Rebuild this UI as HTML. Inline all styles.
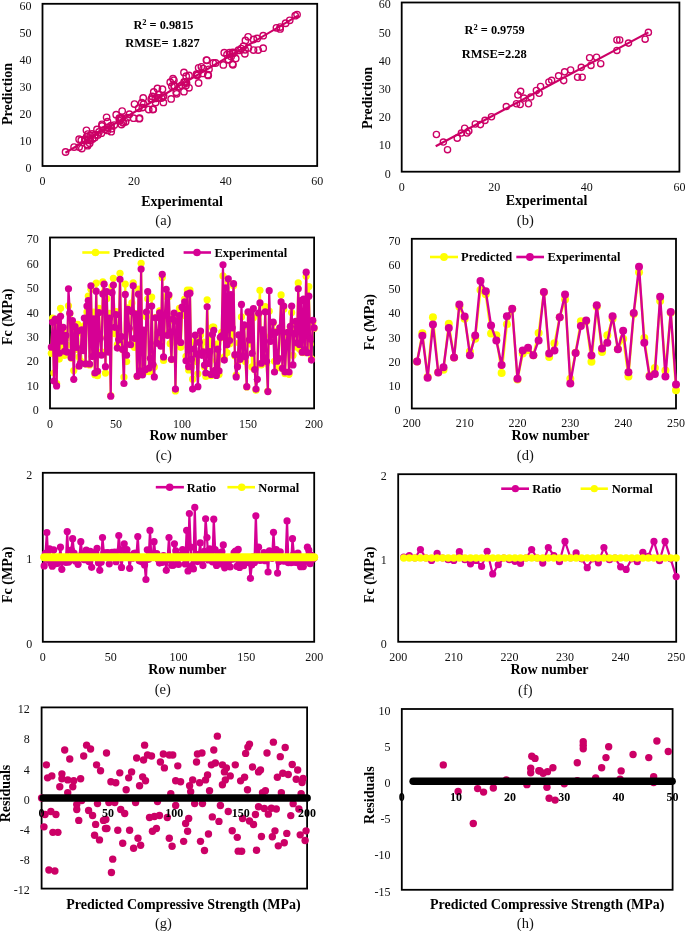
<!DOCTYPE html><html><head><meta charset="utf-8"><style>html,body{margin:0;padding:0;background:#fff;width:685px;height:931px;overflow:hidden}svg{display:block;will-change:transform}</style></head><body>
<svg width="685" height="931" viewBox="0 0 685 931" style="font-family:&quot;Liberation Serif&quot;,serif">
<rect width="685" height="931" fill="#fff"/>
<rect x="42.5" y="3.8" width="274.7" height="162.2" fill="none" stroke="#000" stroke-width="1.8"/>
<circle cx="65.57" cy="152" r="3.2" fill="none" stroke="#CC0066" stroke-width="1.4"/>
<circle cx="74.09" cy="147.08" r="3.2" fill="none" stroke="#CC0066" stroke-width="1.4"/>
<circle cx="79.13" cy="139.24" r="3.2" fill="none" stroke="#CC0066" stroke-width="1.4"/>
<circle cx="79.13" cy="147.08" r="3.2" fill="none" stroke="#CC0066" stroke-width="1.4"/>
<circle cx="86.45" cy="130.32" r="3.2" fill="none" stroke="#CC0066" stroke-width="1.4"/>
<circle cx="87.83" cy="134.1" r="3.2" fill="none" stroke="#CC0066" stroke-width="1.4"/>
<circle cx="88.74" cy="139.24" r="3.2" fill="none" stroke="#CC0066" stroke-width="1.4"/>
<circle cx="96.98" cy="129.5" r="3.2" fill="none" stroke="#CC0066" stroke-width="1.4"/>
<circle cx="97.9" cy="134.91" r="3.2" fill="none" stroke="#CC0066" stroke-width="1.4"/>
<circle cx="102.02" cy="124.37" r="3.2" fill="none" stroke="#CC0066" stroke-width="1.4"/>
<circle cx="106.6" cy="117.34" r="3.2" fill="none" stroke="#CC0066" stroke-width="1.4"/>
<circle cx="107.51" cy="121.67" r="3.2" fill="none" stroke="#CC0066" stroke-width="1.4"/>
<circle cx="111.63" cy="128.69" r="3.2" fill="none" stroke="#CC0066" stroke-width="1.4"/>
<circle cx="116.21" cy="114.64" r="3.2" fill="none" stroke="#CC0066" stroke-width="1.4"/>
<circle cx="122.16" cy="111.12" r="3.2" fill="none" stroke="#CC0066" stroke-width="1.4"/>
<circle cx="120.33" cy="118.96" r="3.2" fill="none" stroke="#CC0066" stroke-width="1.4"/>
<circle cx="134.52" cy="104.09" r="3.2" fill="none" stroke="#CC0066" stroke-width="1.4"/>
<circle cx="133.61" cy="118.15" r="3.2" fill="none" stroke="#CC0066" stroke-width="1.4"/>
<circle cx="139.56" cy="118.15" r="3.2" fill="none" stroke="#CC0066" stroke-width="1.4"/>
<circle cx="143.22" cy="97.88" r="3.2" fill="none" stroke="#CC0066" stroke-width="1.4"/>
<circle cx="142.31" cy="107.61" r="3.2" fill="none" stroke="#CC0066" stroke-width="1.4"/>
<circle cx="148.72" cy="109.5" r="3.2" fill="none" stroke="#CC0066" stroke-width="1.4"/>
<circle cx="152.84" cy="109.5" r="3.2" fill="none" stroke="#CC0066" stroke-width="1.4"/>
<circle cx="153.75" cy="91.93" r="3.2" fill="none" stroke="#CC0066" stroke-width="1.4"/>
<circle cx="157.42" cy="88.41" r="3.2" fill="none" stroke="#CC0066" stroke-width="1.4"/>
<circle cx="162.45" cy="89.23" r="3.2" fill="none" stroke="#CC0066" stroke-width="1.4"/>
<circle cx="158.33" cy="97.88" r="3.2" fill="none" stroke="#CC0066" stroke-width="1.4"/>
<circle cx="163.37" cy="102.47" r="3.2" fill="none" stroke="#CC0066" stroke-width="1.4"/>
<circle cx="170.24" cy="82.2" r="3.2" fill="none" stroke="#CC0066" stroke-width="1.4"/>
<circle cx="172.98" cy="78.68" r="3.2" fill="none" stroke="#CC0066" stroke-width="1.4"/>
<circle cx="171.15" cy="98.96" r="3.2" fill="none" stroke="#CC0066" stroke-width="1.4"/>
<circle cx="176.65" cy="93.82" r="3.2" fill="none" stroke="#CC0066" stroke-width="1.4"/>
<circle cx="183.97" cy="72.46" r="3.2" fill="none" stroke="#CC0066" stroke-width="1.4"/>
<circle cx="189.01" cy="75.44" r="3.2" fill="none" stroke="#CC0066" stroke-width="1.4"/>
<circle cx="198.62" cy="67.87" r="3.2" fill="none" stroke="#CC0066" stroke-width="1.4"/>
<circle cx="201.37" cy="66.79" r="3.2" fill="none" stroke="#CC0066" stroke-width="1.4"/>
<circle cx="206.86" cy="60.3" r="3.2" fill="none" stroke="#CC0066" stroke-width="1.4"/>
<circle cx="208.24" cy="75.44" r="3.2" fill="none" stroke="#CC0066" stroke-width="1.4"/>
<circle cx="198.62" cy="83.01" r="3.2" fill="none" stroke="#CC0066" stroke-width="1.4"/>
<circle cx="183.97" cy="91.66" r="3.2" fill="none" stroke="#CC0066" stroke-width="1.4"/>
<circle cx="189.01" cy="87.87" r="3.2" fill="none" stroke="#CC0066" stroke-width="1.4"/>
<circle cx="173.9" cy="80.3" r="3.2" fill="none" stroke="#CC0066" stroke-width="1.4"/>
<circle cx="215.56" cy="63" r="3.2" fill="none" stroke="#CC0066" stroke-width="1.4"/>
<circle cx="224.26" cy="52.73" r="3.2" fill="none" stroke="#CC0066" stroke-width="1.4"/>
<circle cx="227.01" cy="54.62" r="3.2" fill="none" stroke="#CC0066" stroke-width="1.4"/>
<circle cx="223.34" cy="64.9" r="3.2" fill="none" stroke="#CC0066" stroke-width="1.4"/>
<circle cx="232.5" cy="64.08" r="3.2" fill="none" stroke="#CC0066" stroke-width="1.4"/>
<circle cx="235.71" cy="58.41" r="3.2" fill="none" stroke="#CC0066" stroke-width="1.4"/>
<circle cx="238.45" cy="50.03" r="3.2" fill="none" stroke="#CC0066" stroke-width="1.4"/>
<circle cx="244.86" cy="53.81" r="3.2" fill="none" stroke="#CC0066" stroke-width="1.4"/>
<circle cx="253.56" cy="39.48" r="3.2" fill="none" stroke="#CC0066" stroke-width="1.4"/>
<circle cx="257.22" cy="38.4" r="3.2" fill="none" stroke="#CC0066" stroke-width="1.4"/>
<circle cx="263.18" cy="35.7" r="3.2" fill="none" stroke="#CC0066" stroke-width="1.4"/>
<circle cx="253.56" cy="50.03" r="3.2" fill="none" stroke="#CC0066" stroke-width="1.4"/>
<circle cx="258.14" cy="50.03" r="3.2" fill="none" stroke="#CC0066" stroke-width="1.4"/>
<circle cx="263.18" cy="48.13" r="3.2" fill="none" stroke="#CC0066" stroke-width="1.4"/>
<circle cx="276.45" cy="27.86" r="3.2" fill="none" stroke="#CC0066" stroke-width="1.4"/>
<circle cx="280.12" cy="27.05" r="3.2" fill="none" stroke="#CC0066" stroke-width="1.4"/>
<circle cx="285.61" cy="23.26" r="3.2" fill="none" stroke="#CC0066" stroke-width="1.4"/>
<circle cx="289.73" cy="20.29" r="3.2" fill="none" stroke="#CC0066" stroke-width="1.4"/>
<circle cx="295.22" cy="15.69" r="3.2" fill="none" stroke="#CC0066" stroke-width="1.4"/>
<circle cx="297.06" cy="14.61" r="3.2" fill="none" stroke="#CC0066" stroke-width="1.4"/>
<circle cx="280.12" cy="28.94" r="3.2" fill="none" stroke="#CC0066" stroke-width="1.4"/>
<circle cx="153.25" cy="109.17" r="3.2" fill="none" stroke="#CC0066" stroke-width="1.4"/>
<circle cx="155.56" cy="102.62" r="3.2" fill="none" stroke="#CC0066" stroke-width="1.4"/>
<circle cx="162.9" cy="97.12" r="3.2" fill="none" stroke="#CC0066" stroke-width="1.4"/>
<circle cx="163.61" cy="95.84" r="3.2" fill="none" stroke="#CC0066" stroke-width="1.4"/>
<circle cx="184.13" cy="81.89" r="3.2" fill="none" stroke="#CC0066" stroke-width="1.4"/>
<circle cx="127.33" cy="117.65" r="3.2" fill="none" stroke="#CC0066" stroke-width="1.4"/>
<circle cx="90.32" cy="135.48" r="3.2" fill="none" stroke="#CC0066" stroke-width="1.4"/>
<circle cx="81.83" cy="148.58" r="3.2" fill="none" stroke="#CC0066" stroke-width="1.4"/>
<circle cx="245.43" cy="40.42" r="3.2" fill="none" stroke="#CC0066" stroke-width="1.4"/>
<circle cx="181.64" cy="85.14" r="3.2" fill="none" stroke="#CC0066" stroke-width="1.4"/>
<circle cx="101.95" cy="125.95" r="3.2" fill="none" stroke="#CC0066" stroke-width="1.4"/>
<circle cx="84.91" cy="140.49" r="3.2" fill="none" stroke="#CC0066" stroke-width="1.4"/>
<circle cx="107.64" cy="127.49" r="3.2" fill="none" stroke="#CC0066" stroke-width="1.4"/>
<circle cx="155.26" cy="98.42" r="3.2" fill="none" stroke="#CC0066" stroke-width="1.4"/>
<circle cx="151.19" cy="99.13" r="3.2" fill="none" stroke="#CC0066" stroke-width="1.4"/>
<circle cx="185.94" cy="85.4" r="3.2" fill="none" stroke="#CC0066" stroke-width="1.4"/>
<circle cx="161.5" cy="98.08" r="3.2" fill="none" stroke="#CC0066" stroke-width="1.4"/>
<circle cx="122.94" cy="122.32" r="3.2" fill="none" stroke="#CC0066" stroke-width="1.4"/>
<circle cx="248.12" cy="36.83" r="3.2" fill="none" stroke="#CC0066" stroke-width="1.4"/>
<circle cx="197.69" cy="74.58" r="3.2" fill="none" stroke="#CC0066" stroke-width="1.4"/>
<circle cx="129.4" cy="114.26" r="3.2" fill="none" stroke="#CC0066" stroke-width="1.4"/>
<circle cx="86.77" cy="136.54" r="3.2" fill="none" stroke="#CC0066" stroke-width="1.4"/>
<circle cx="207.86" cy="74.72" r="3.2" fill="none" stroke="#CC0066" stroke-width="1.4"/>
<circle cx="141.79" cy="102.77" r="3.2" fill="none" stroke="#CC0066" stroke-width="1.4"/>
<circle cx="241.23" cy="48.58" r="3.2" fill="none" stroke="#CC0066" stroke-width="1.4"/>
<circle cx="111.03" cy="125.64" r="3.2" fill="none" stroke="#CC0066" stroke-width="1.4"/>
<circle cx="232.91" cy="64.73" r="3.2" fill="none" stroke="#CC0066" stroke-width="1.4"/>
<circle cx="143.69" cy="104.12" r="3.2" fill="none" stroke="#CC0066" stroke-width="1.4"/>
<circle cx="87.26" cy="144.41" r="3.2" fill="none" stroke="#CC0066" stroke-width="1.4"/>
<circle cx="121.48" cy="124.48" r="3.2" fill="none" stroke="#CC0066" stroke-width="1.4"/>
<circle cx="89.71" cy="143.31" r="3.2" fill="none" stroke="#CC0066" stroke-width="1.4"/>
<circle cx="206.43" cy="60.12" r="3.2" fill="none" stroke="#CC0066" stroke-width="1.4"/>
<circle cx="95.08" cy="134.91" r="3.2" fill="none" stroke="#CC0066" stroke-width="1.4"/>
<circle cx="84.97" cy="139.05" r="3.2" fill="none" stroke="#CC0066" stroke-width="1.4"/>
<circle cx="213.21" cy="62.92" r="3.2" fill="none" stroke="#CC0066" stroke-width="1.4"/>
<circle cx="152.39" cy="96.45" r="3.2" fill="none" stroke="#CC0066" stroke-width="1.4"/>
<circle cx="107.72" cy="127.73" r="3.2" fill="none" stroke="#CC0066" stroke-width="1.4"/>
<circle cx="186.54" cy="83.08" r="3.2" fill="none" stroke="#CC0066" stroke-width="1.4"/>
<circle cx="94.82" cy="137.57" r="3.2" fill="none" stroke="#CC0066" stroke-width="1.4"/>
<circle cx="121.49" cy="118.02" r="3.2" fill="none" stroke="#CC0066" stroke-width="1.4"/>
<circle cx="243.47" cy="46.2" r="3.2" fill="none" stroke="#CC0066" stroke-width="1.4"/>
<circle cx="228.49" cy="59.44" r="3.2" fill="none" stroke="#CC0066" stroke-width="1.4"/>
<circle cx="111.21" cy="131.7" r="3.2" fill="none" stroke="#CC0066" stroke-width="1.4"/>
<circle cx="186.21" cy="76.24" r="3.2" fill="none" stroke="#CC0066" stroke-width="1.4"/>
<circle cx="92" cy="133.97" r="3.2" fill="none" stroke="#CC0066" stroke-width="1.4"/>
<circle cx="119.48" cy="120.73" r="3.2" fill="none" stroke="#CC0066" stroke-width="1.4"/>
<circle cx="208.98" cy="69.32" r="3.2" fill="none" stroke="#CC0066" stroke-width="1.4"/>
<circle cx="87.32" cy="136.55" r="3.2" fill="none" stroke="#CC0066" stroke-width="1.4"/>
<circle cx="90.23" cy="140.45" r="3.2" fill="none" stroke="#CC0066" stroke-width="1.4"/>
<circle cx="179.16" cy="86.81" r="3.2" fill="none" stroke="#CC0066" stroke-width="1.4"/>
<circle cx="139.22" cy="118.71" r="3.2" fill="none" stroke="#CC0066" stroke-width="1.4"/>
<circle cx="158.71" cy="94.41" r="3.2" fill="none" stroke="#CC0066" stroke-width="1.4"/>
<circle cx="174.51" cy="86.33" r="3.2" fill="none" stroke="#CC0066" stroke-width="1.4"/>
<circle cx="101.36" cy="133.16" r="3.2" fill="none" stroke="#CC0066" stroke-width="1.4"/>
<circle cx="232.59" cy="52.49" r="3.2" fill="none" stroke="#CC0066" stroke-width="1.4"/>
<circle cx="107.57" cy="130.38" r="3.2" fill="none" stroke="#CC0066" stroke-width="1.4"/>
<circle cx="203.19" cy="68.62" r="3.2" fill="none" stroke="#CC0066" stroke-width="1.4"/>
<circle cx="239.85" cy="50.45" r="3.2" fill="none" stroke="#CC0066" stroke-width="1.4"/>
<circle cx="228.03" cy="59.83" r="3.2" fill="none" stroke="#CC0066" stroke-width="1.4"/>
<circle cx="92.61" cy="138.98" r="3.2" fill="none" stroke="#CC0066" stroke-width="1.4"/>
<circle cx="81.28" cy="140.19" r="3.2" fill="none" stroke="#CC0066" stroke-width="1.4"/>
<circle cx="197.13" cy="75.39" r="3.2" fill="none" stroke="#CC0066" stroke-width="1.4"/>
<circle cx="119.26" cy="118.24" r="3.2" fill="none" stroke="#CC0066" stroke-width="1.4"/>
<circle cx="125.6" cy="121.82" r="3.2" fill="none" stroke="#CC0066" stroke-width="1.4"/>
<circle cx="105.07" cy="129.34" r="3.2" fill="none" stroke="#CC0066" stroke-width="1.4"/>
<circle cx="114.28" cy="125.12" r="3.2" fill="none" stroke="#CC0066" stroke-width="1.4"/>
<circle cx="171.87" cy="86.26" r="3.2" fill="none" stroke="#CC0066" stroke-width="1.4"/>
<circle cx="123.3" cy="122.77" r="3.2" fill="none" stroke="#CC0066" stroke-width="1.4"/>
<circle cx="234.15" cy="52.63" r="3.2" fill="none" stroke="#CC0066" stroke-width="1.4"/>
<circle cx="121.38" cy="118.71" r="3.2" fill="none" stroke="#CC0066" stroke-width="1.4"/>
<circle cx="152.09" cy="98.95" r="3.2" fill="none" stroke="#CC0066" stroke-width="1.4"/>
<circle cx="138.71" cy="108.26" r="3.2" fill="none" stroke="#CC0066" stroke-width="1.4"/>
<circle cx="174.09" cy="85.7" r="3.2" fill="none" stroke="#CC0066" stroke-width="1.4"/>
<circle cx="229.55" cy="52.72" r="3.2" fill="none" stroke="#CC0066" stroke-width="1.4"/>
<circle cx="245.13" cy="49.79" r="3.2" fill="none" stroke="#CC0066" stroke-width="1.4"/>
<circle cx="176.23" cy="92.22" r="3.2" fill="none" stroke="#CC0066" stroke-width="1.4"/>
<circle cx="98.97" cy="131.91" r="3.2" fill="none" stroke="#CC0066" stroke-width="1.4"/>
<circle cx="232.9" cy="53.41" r="3.2" fill="none" stroke="#CC0066" stroke-width="1.4"/>
<circle cx="196.5" cy="74.25" r="3.2" fill="none" stroke="#CC0066" stroke-width="1.4"/>
<circle cx="185.23" cy="81.92" r="3.2" fill="none" stroke="#CC0066" stroke-width="1.4"/>
<circle cx="158.45" cy="97.97" r="3.2" fill="none" stroke="#CC0066" stroke-width="1.4"/>
<circle cx="248.41" cy="47.94" r="3.2" fill="none" stroke="#CC0066" stroke-width="1.4"/>
<circle cx="87.64" cy="145.7" r="3.2" fill="none" stroke="#CC0066" stroke-width="1.4"/>
<circle cx="231.16" cy="56.5" r="3.2" fill="none" stroke="#CC0066" stroke-width="1.4"/>
<circle cx="202.78" cy="73.42" r="3.2" fill="none" stroke="#CC0066" stroke-width="1.4"/>
<line x1="65.39" y1="152.75" x2="297.97" y2="15.69" stroke="#CC0066" stroke-width="2.1"/>
<text x="31.4" y="171.8" font-size="12" text-anchor="end" font-weight="normal" fill="#111" >0</text>
<text x="31.4" y="144.77" font-size="12" text-anchor="end" font-weight="normal" fill="#111" >10</text>
<text x="31.4" y="117.73" font-size="12" text-anchor="end" font-weight="normal" fill="#111" >20</text>
<text x="31.4" y="90.7" font-size="12" text-anchor="end" font-weight="normal" fill="#111" >30</text>
<text x="31.4" y="63.67" font-size="12" text-anchor="end" font-weight="normal" fill="#111" >40</text>
<text x="31.4" y="36.63" font-size="12" text-anchor="end" font-weight="normal" fill="#111" >50</text>
<text x="31.4" y="9.6" font-size="12" text-anchor="end" font-weight="normal" fill="#111" >60</text>
<text x="42.5" y="185.3" font-size="12" text-anchor="middle" font-weight="normal" fill="#111" >0</text>
<text x="134.07" y="185.3" font-size="12" text-anchor="middle" font-weight="normal" fill="#111" >20</text>
<text x="225.63" y="185.3" font-size="12" text-anchor="middle" font-weight="normal" fill="#111" >40</text>
<text x="317.2" y="185.3" font-size="12" text-anchor="middle" font-weight="normal" fill="#111" >60</text>
<text transform="translate(12,94) rotate(-90)" font-size="14" text-anchor="middle" font-weight="bold" fill="#000">Prediction</text>
<text x="182" y="205.6" font-size="14" text-anchor="middle" font-weight="bold" fill="#000" >Experimental</text>
<text x="163.4" y="225" font-size="14.5" text-anchor="middle" font-weight="normal" fill="#111" >(a)</text>
<text x="133.4" y="29.3" font-size="12.3" text-anchor="start" font-weight="bold" fill="#000" >R<tspan font-size="8.5" dy="-4.2">2</tspan><tspan dy="4.2"> = 0.9815</tspan></text>
<text x="125.3" y="46.8" font-size="12.5" text-anchor="start" font-weight="bold" fill="#000" >RMSE= 1.827</text>
<rect x="401.7" y="2.5" width="277.7" height="169.2" fill="none" stroke="#000" stroke-width="1.8"/>
<circle cx="436.41" cy="134.48" r="3.1" fill="none" stroke="#CC0066" stroke-width="1.35"/>
<circle cx="443.35" cy="142.09" r="3.1" fill="none" stroke="#CC0066" stroke-width="1.35"/>
<circle cx="447.52" cy="149.7" r="3.1" fill="none" stroke="#CC0066" stroke-width="1.35"/>
<circle cx="457.24" cy="138.14" r="3.1" fill="none" stroke="#CC0066" stroke-width="1.35"/>
<circle cx="461.41" cy="133.07" r="3.1" fill="none" stroke="#CC0066" stroke-width="1.35"/>
<circle cx="464.65" cy="128.27" r="3.1" fill="none" stroke="#CC0066" stroke-width="1.35"/>
<circle cx="468.81" cy="131.09" r="3.1" fill="none" stroke="#CC0066" stroke-width="1.35"/>
<circle cx="466.96" cy="133.07" r="3.1" fill="none" stroke="#CC0066" stroke-width="1.35"/>
<circle cx="475.29" cy="124.04" r="3.1" fill="none" stroke="#CC0066" stroke-width="1.35"/>
<circle cx="480.38" cy="124.61" r="3.1" fill="none" stroke="#CC0066" stroke-width="1.35"/>
<circle cx="485.01" cy="120.38" r="3.1" fill="none" stroke="#CC0066" stroke-width="1.35"/>
<circle cx="491.49" cy="116.71" r="3.1" fill="none" stroke="#CC0066" stroke-width="1.35"/>
<circle cx="506.3" cy="106.56" r="3.1" fill="none" stroke="#CC0066" stroke-width="1.35"/>
<circle cx="516.48" cy="103.74" r="3.1" fill="none" stroke="#CC0066" stroke-width="1.35"/>
<circle cx="517.87" cy="95" r="3.1" fill="none" stroke="#CC0066" stroke-width="1.35"/>
<circle cx="520.65" cy="91.33" r="3.1" fill="none" stroke="#CC0066" stroke-width="1.35"/>
<circle cx="520.19" cy="104.58" r="3.1" fill="none" stroke="#CC0066" stroke-width="1.35"/>
<circle cx="523.89" cy="98.1" r="3.1" fill="none" stroke="#CC0066" stroke-width="1.35"/>
<circle cx="528.52" cy="103.74" r="3.1" fill="none" stroke="#CC0066" stroke-width="1.35"/>
<circle cx="530.83" cy="96.97" r="3.1" fill="none" stroke="#CC0066" stroke-width="1.35"/>
<circle cx="536.38" cy="90.48" r="3.1" fill="none" stroke="#CC0066" stroke-width="1.35"/>
<circle cx="539.16" cy="93.3" r="3.1" fill="none" stroke="#CC0066" stroke-width="1.35"/>
<circle cx="540.55" cy="86.54" r="3.1" fill="none" stroke="#CC0066" stroke-width="1.35"/>
<circle cx="548.88" cy="82.02" r="3.1" fill="none" stroke="#CC0066" stroke-width="1.35"/>
<circle cx="551.66" cy="80.33" r="3.1" fill="none" stroke="#CC0066" stroke-width="1.35"/>
<circle cx="558.6" cy="75.82" r="3.1" fill="none" stroke="#CC0066" stroke-width="1.35"/>
<circle cx="563.69" cy="80.61" r="3.1" fill="none" stroke="#CC0066" stroke-width="1.35"/>
<circle cx="564.62" cy="71.87" r="3.1" fill="none" stroke="#CC0066" stroke-width="1.35"/>
<circle cx="570.63" cy="69.9" r="3.1" fill="none" stroke="#CC0066" stroke-width="1.35"/>
<circle cx="577.58" cy="77.23" r="3.1" fill="none" stroke="#CC0066" stroke-width="1.35"/>
<circle cx="582.2" cy="77.23" r="3.1" fill="none" stroke="#CC0066" stroke-width="1.35"/>
<circle cx="581.28" cy="67.36" r="3.1" fill="none" stroke="#CC0066" stroke-width="1.35"/>
<circle cx="589.61" cy="57.77" r="3.1" fill="none" stroke="#CC0066" stroke-width="1.35"/>
<circle cx="591" cy="65.39" r="3.1" fill="none" stroke="#CC0066" stroke-width="1.35"/>
<circle cx="596.55" cy="57.21" r="3.1" fill="none" stroke="#CC0066" stroke-width="1.35"/>
<circle cx="600.72" cy="63.69" r="3.1" fill="none" stroke="#CC0066" stroke-width="1.35"/>
<circle cx="616.92" cy="50.44" r="3.1" fill="none" stroke="#CC0066" stroke-width="1.35"/>
<circle cx="616.92" cy="40.01" r="3.1" fill="none" stroke="#CC0066" stroke-width="1.35"/>
<circle cx="619.69" cy="40.01" r="3.1" fill="none" stroke="#CC0066" stroke-width="1.35"/>
<circle cx="628.49" cy="43.11" r="3.1" fill="none" stroke="#CC0066" stroke-width="1.35"/>
<circle cx="645.15" cy="39.16" r="3.1" fill="none" stroke="#CC0066" stroke-width="1.35"/>
<circle cx="648.39" cy="32.39" r="3.1" fill="none" stroke="#CC0066" stroke-width="1.35"/>
<line x1="435.72" y1="146.32" x2="648.39" y2="32.39" stroke="#CC0066" stroke-width="2.2"/>
<text x="390.8" y="177.5" font-size="12" text-anchor="end" font-weight="normal" fill="#111" >0</text>
<text x="390.8" y="149.3" font-size="12" text-anchor="end" font-weight="normal" fill="#111" >10</text>
<text x="390.8" y="121.1" font-size="12" text-anchor="end" font-weight="normal" fill="#111" >20</text>
<text x="390.8" y="92.9" font-size="12" text-anchor="end" font-weight="normal" fill="#111" >30</text>
<text x="390.8" y="64.7" font-size="12" text-anchor="end" font-weight="normal" fill="#111" >40</text>
<text x="390.8" y="36.5" font-size="12" text-anchor="end" font-weight="normal" fill="#111" >50</text>
<text x="390.8" y="8.3" font-size="12" text-anchor="end" font-weight="normal" fill="#111" >60</text>
<text x="401.7" y="190.5" font-size="12" text-anchor="middle" font-weight="normal" fill="#111" >0</text>
<text x="494.27" y="190.5" font-size="12" text-anchor="middle" font-weight="normal" fill="#111" >20</text>
<text x="586.83" y="190.5" font-size="12" text-anchor="middle" font-weight="normal" fill="#111" >40</text>
<text x="679.4" y="190.5" font-size="12" text-anchor="middle" font-weight="normal" fill="#111" >60</text>
<text transform="translate(371.7,98) rotate(-90)" font-size="14" text-anchor="middle" font-weight="bold" fill="#000">Prediction</text>
<text x="546.5" y="205" font-size="14" text-anchor="middle" font-weight="bold" fill="#000" >Experimental</text>
<text x="525.3" y="224.5" font-size="14.5" text-anchor="middle" font-weight="normal" fill="#111" >(b)</text>
<text x="464.6" y="34.2" font-size="12.3" text-anchor="start" font-weight="bold" fill="#000" >R<tspan font-size="8.5" dy="-4.2">2</tspan><tspan dy="4.2"> = 0.9759</tspan></text>
<text x="461.7" y="57.8" font-size="12.5" text-anchor="start" font-weight="bold" fill="#000" >RMSE=2.28</text>
<rect x="50" y="237.5" width="264.1" height="170.9" fill="none" stroke="#000" stroke-width="1.8"/>
<polyline points="51.32,353.37 52.64,318.07 53.96,373.04 55.28,321.74 56.6,383.72 57.92,326.74 59.24,359.04 60.56,308.36 61.88,346.33 63.2,330.34 64.53,355.35 65.85,338.42 67.17,345.31 68.49,305.76 69.81,313.68 71.13,358.03 72.45,325.69 73.77,370.49 75.09,331.27 76.41,349.37 77.73,324.32 79.05,356.92 80.37,360.97 81.69,333.15 83.01,350.4 84.33,325.55 85.65,363.9 86.97,311.88 88.29,296.12 89.62,364.99 90.94,289.33 92.26,352.09 93.58,312.21 94.9,374.74 96.22,283.01 97.54,375.68 98.86,308.3 100.18,337.03 101.5,351.96 102.82,281.76 104.14,292.02 105.46,373.08 106.78,298.63 108.1,338.97 109.42,313.31 110.74,395.63 112.06,286.55 113.38,278.33 114.7,333.58 116.03,311.58 117.35,344.6 118.67,338.84 119.99,273.24 121.31,340.26 122.63,349.44 123.95,377.07 125.27,284.08 126.59,361.56 127.91,307.92 129.23,329.24 130.55,344.24 131.87,302.92 133.19,282.86 134.51,347.43 135.83,313.7 137.15,376.54 138.47,289.18 139.79,369 141.11,263.34 142.44,366.76 143.76,333.04 145.08,371.78 146.4,316.65 147.72,298.84 149.04,371.75 150.36,371.51 151.68,297.1 153,365.51 154.32,366.89 155.64,317.41 156.96,342.64 158.28,336.68 159.6,310.87 160.92,343.56 162.24,277.53 163.56,360.43 164.88,315.06 166.2,296.4 167.52,333.8 168.85,296.49 170.17,343.7 171.49,359.6 172.81,320.42 174.13,316.15 175.45,390.9 176.77,329.23 178.09,329.99 179.41,308.41 180.73,347.34 182.05,315.81 183.37,306.58 184.69,299.1 186.01,356.4 187.33,290.05 188.65,369.91 189.97,290.18 191.29,367.28 192.61,379.14 193.93,341.92 195.26,342.41 196.58,361.4 197.9,373.85 199.22,341.44 200.54,334.95 201.86,353.52 203.18,342.12 204.5,366.96 205.82,376.45 207.14,299.73 208.46,343.04 209.78,338.39 211.1,375.55 212.42,327.15 213.74,326.98 215.06,372.46 216.38,360.58 217.7,343.77 219.02,374.54 220.34,338.06 221.66,332.33 222.99,275.97 224.31,356.88 225.63,296.02 226.95,352.63 228.27,281.79 229.59,343.93 230.91,295.55 232.23,337.08 233.55,285.7 234.87,355.88 236.19,375.19 237.51,363.62 238.83,342.73 240.15,354.75 241.47,316.88 242.79,357.68 244.11,326.39 245.43,361.62 246.75,386.92 248.07,312.81 249.4,343.97 250.72,313 252.04,366.96 253.36,317.71 254.68,369.41 256,390.27 257.32,365.05 258.64,314.61 259.96,290.27 261.28,364.88 262.6,332.36 263.92,357.22 265.24,306.59 266.56,363.2 267.88,391.05 269.2,311.2 270.52,336.07 271.84,334.38 273.16,323.31 274.49,361.29 275.81,331.43 277.13,356.89 278.45,367.71 279.77,331.96 281.09,294.95 282.41,368.47 283.73,309.22 285.05,373.68 286.37,343.41 287.69,335.49 289.01,374.32 290.33,327.43 291.65,312.55 292.97,355.38 294.29,330.7 295.61,326.4 296.93,346.89 298.25,282.9 299.57,348.91 300.9,312.71 302.22,352.54 303.54,311.12 304.86,352.72 306.18,276.26 307.5,345.96 308.82,286.6 310.14,344.33 311.46,358.88 312.78,322.08 314.1,328.38" fill="none" stroke="#FFFF00" stroke-width="2.2" stroke-linejoin="round"/>
<circle cx="51.32" cy="353.37" r="3.6" fill="#FFFF00"/>
<circle cx="52.64" cy="318.07" r="3.6" fill="#FFFF00"/>
<circle cx="53.96" cy="373.04" r="3.6" fill="#FFFF00"/>
<circle cx="55.28" cy="321.74" r="3.6" fill="#FFFF00"/>
<circle cx="56.6" cy="383.72" r="3.6" fill="#FFFF00"/>
<circle cx="57.92" cy="326.74" r="3.6" fill="#FFFF00"/>
<circle cx="59.24" cy="359.04" r="3.6" fill="#FFFF00"/>
<circle cx="60.56" cy="308.36" r="3.6" fill="#FFFF00"/>
<circle cx="61.88" cy="346.33" r="3.6" fill="#FFFF00"/>
<circle cx="63.2" cy="330.34" r="3.6" fill="#FFFF00"/>
<circle cx="64.53" cy="355.35" r="3.6" fill="#FFFF00"/>
<circle cx="65.85" cy="338.42" r="3.6" fill="#FFFF00"/>
<circle cx="67.17" cy="345.31" r="3.6" fill="#FFFF00"/>
<circle cx="68.49" cy="305.76" r="3.6" fill="#FFFF00"/>
<circle cx="69.81" cy="313.68" r="3.6" fill="#FFFF00"/>
<circle cx="71.13" cy="358.03" r="3.6" fill="#FFFF00"/>
<circle cx="72.45" cy="325.69" r="3.6" fill="#FFFF00"/>
<circle cx="73.77" cy="370.49" r="3.6" fill="#FFFF00"/>
<circle cx="75.09" cy="331.27" r="3.6" fill="#FFFF00"/>
<circle cx="76.41" cy="349.37" r="3.6" fill="#FFFF00"/>
<circle cx="77.73" cy="324.32" r="3.6" fill="#FFFF00"/>
<circle cx="79.05" cy="356.92" r="3.6" fill="#FFFF00"/>
<circle cx="80.37" cy="360.97" r="3.6" fill="#FFFF00"/>
<circle cx="81.69" cy="333.15" r="3.6" fill="#FFFF00"/>
<circle cx="83.01" cy="350.4" r="3.6" fill="#FFFF00"/>
<circle cx="84.33" cy="325.55" r="3.6" fill="#FFFF00"/>
<circle cx="85.65" cy="363.9" r="3.6" fill="#FFFF00"/>
<circle cx="86.97" cy="311.88" r="3.6" fill="#FFFF00"/>
<circle cx="88.29" cy="296.12" r="3.6" fill="#FFFF00"/>
<circle cx="89.62" cy="364.99" r="3.6" fill="#FFFF00"/>
<circle cx="90.94" cy="289.33" r="3.6" fill="#FFFF00"/>
<circle cx="92.26" cy="352.09" r="3.6" fill="#FFFF00"/>
<circle cx="93.58" cy="312.21" r="3.6" fill="#FFFF00"/>
<circle cx="94.9" cy="374.74" r="3.6" fill="#FFFF00"/>
<circle cx="96.22" cy="283.01" r="3.6" fill="#FFFF00"/>
<circle cx="97.54" cy="375.68" r="3.6" fill="#FFFF00"/>
<circle cx="98.86" cy="308.3" r="3.6" fill="#FFFF00"/>
<circle cx="100.18" cy="337.03" r="3.6" fill="#FFFF00"/>
<circle cx="101.5" cy="351.96" r="3.6" fill="#FFFF00"/>
<circle cx="102.82" cy="281.76" r="3.6" fill="#FFFF00"/>
<circle cx="104.14" cy="292.02" r="3.6" fill="#FFFF00"/>
<circle cx="105.46" cy="373.08" r="3.6" fill="#FFFF00"/>
<circle cx="106.78" cy="298.63" r="3.6" fill="#FFFF00"/>
<circle cx="108.1" cy="338.97" r="3.6" fill="#FFFF00"/>
<circle cx="109.42" cy="313.31" r="3.6" fill="#FFFF00"/>
<circle cx="110.74" cy="395.63" r="3.6" fill="#FFFF00"/>
<circle cx="112.06" cy="286.55" r="3.6" fill="#FFFF00"/>
<circle cx="113.38" cy="278.33" r="3.6" fill="#FFFF00"/>
<circle cx="114.7" cy="333.58" r="3.6" fill="#FFFF00"/>
<circle cx="116.03" cy="311.58" r="3.6" fill="#FFFF00"/>
<circle cx="117.35" cy="344.6" r="3.6" fill="#FFFF00"/>
<circle cx="118.67" cy="338.84" r="3.6" fill="#FFFF00"/>
<circle cx="119.99" cy="273.24" r="3.6" fill="#FFFF00"/>
<circle cx="121.31" cy="340.26" r="3.6" fill="#FFFF00"/>
<circle cx="122.63" cy="349.44" r="3.6" fill="#FFFF00"/>
<circle cx="123.95" cy="377.07" r="3.6" fill="#FFFF00"/>
<circle cx="125.27" cy="284.08" r="3.6" fill="#FFFF00"/>
<circle cx="126.59" cy="361.56" r="3.6" fill="#FFFF00"/>
<circle cx="127.91" cy="307.92" r="3.6" fill="#FFFF00"/>
<circle cx="129.23" cy="329.24" r="3.6" fill="#FFFF00"/>
<circle cx="130.55" cy="344.24" r="3.6" fill="#FFFF00"/>
<circle cx="131.87" cy="302.92" r="3.6" fill="#FFFF00"/>
<circle cx="133.19" cy="282.86" r="3.6" fill="#FFFF00"/>
<circle cx="134.51" cy="347.43" r="3.6" fill="#FFFF00"/>
<circle cx="135.83" cy="313.7" r="3.6" fill="#FFFF00"/>
<circle cx="137.15" cy="376.54" r="3.6" fill="#FFFF00"/>
<circle cx="138.47" cy="289.18" r="3.6" fill="#FFFF00"/>
<circle cx="139.79" cy="369" r="3.6" fill="#FFFF00"/>
<circle cx="141.11" cy="263.34" r="3.6" fill="#FFFF00"/>
<circle cx="142.44" cy="366.76" r="3.6" fill="#FFFF00"/>
<circle cx="143.76" cy="333.04" r="3.6" fill="#FFFF00"/>
<circle cx="145.08" cy="371.78" r="3.6" fill="#FFFF00"/>
<circle cx="146.4" cy="316.65" r="3.6" fill="#FFFF00"/>
<circle cx="147.72" cy="298.84" r="3.6" fill="#FFFF00"/>
<circle cx="149.04" cy="371.75" r="3.6" fill="#FFFF00"/>
<circle cx="150.36" cy="371.51" r="3.6" fill="#FFFF00"/>
<circle cx="151.68" cy="297.1" r="3.6" fill="#FFFF00"/>
<circle cx="153" cy="365.51" r="3.6" fill="#FFFF00"/>
<circle cx="154.32" cy="366.89" r="3.6" fill="#FFFF00"/>
<circle cx="155.64" cy="317.41" r="3.6" fill="#FFFF00"/>
<circle cx="156.96" cy="342.64" r="3.6" fill="#FFFF00"/>
<circle cx="158.28" cy="336.68" r="3.6" fill="#FFFF00"/>
<circle cx="159.6" cy="310.87" r="3.6" fill="#FFFF00"/>
<circle cx="160.92" cy="343.56" r="3.6" fill="#FFFF00"/>
<circle cx="162.24" cy="277.53" r="3.6" fill="#FFFF00"/>
<circle cx="163.56" cy="360.43" r="3.6" fill="#FFFF00"/>
<circle cx="164.88" cy="315.06" r="3.6" fill="#FFFF00"/>
<circle cx="166.2" cy="296.4" r="3.6" fill="#FFFF00"/>
<circle cx="167.52" cy="333.8" r="3.6" fill="#FFFF00"/>
<circle cx="168.85" cy="296.49" r="3.6" fill="#FFFF00"/>
<circle cx="170.17" cy="343.7" r="3.6" fill="#FFFF00"/>
<circle cx="171.49" cy="359.6" r="3.6" fill="#FFFF00"/>
<circle cx="172.81" cy="320.42" r="3.6" fill="#FFFF00"/>
<circle cx="174.13" cy="316.15" r="3.6" fill="#FFFF00"/>
<circle cx="175.45" cy="390.9" r="3.6" fill="#FFFF00"/>
<circle cx="176.77" cy="329.23" r="3.6" fill="#FFFF00"/>
<circle cx="178.09" cy="329.99" r="3.6" fill="#FFFF00"/>
<circle cx="179.41" cy="308.41" r="3.6" fill="#FFFF00"/>
<circle cx="180.73" cy="347.34" r="3.6" fill="#FFFF00"/>
<circle cx="182.05" cy="315.81" r="3.6" fill="#FFFF00"/>
<circle cx="183.37" cy="306.58" r="3.6" fill="#FFFF00"/>
<circle cx="184.69" cy="299.1" r="3.6" fill="#FFFF00"/>
<circle cx="186.01" cy="356.4" r="3.6" fill="#FFFF00"/>
<circle cx="187.33" cy="290.05" r="3.6" fill="#FFFF00"/>
<circle cx="188.65" cy="369.91" r="3.6" fill="#FFFF00"/>
<circle cx="189.97" cy="290.18" r="3.6" fill="#FFFF00"/>
<circle cx="191.29" cy="367.28" r="3.6" fill="#FFFF00"/>
<circle cx="192.61" cy="379.14" r="3.6" fill="#FFFF00"/>
<circle cx="193.93" cy="341.92" r="3.6" fill="#FFFF00"/>
<circle cx="195.26" cy="342.41" r="3.6" fill="#FFFF00"/>
<circle cx="196.58" cy="361.4" r="3.6" fill="#FFFF00"/>
<circle cx="197.9" cy="373.85" r="3.6" fill="#FFFF00"/>
<circle cx="199.22" cy="341.44" r="3.6" fill="#FFFF00"/>
<circle cx="200.54" cy="334.95" r="3.6" fill="#FFFF00"/>
<circle cx="201.86" cy="353.52" r="3.6" fill="#FFFF00"/>
<circle cx="203.18" cy="342.12" r="3.6" fill="#FFFF00"/>
<circle cx="204.5" cy="366.96" r="3.6" fill="#FFFF00"/>
<circle cx="205.82" cy="376.45" r="3.6" fill="#FFFF00"/>
<circle cx="207.14" cy="299.73" r="3.6" fill="#FFFF00"/>
<circle cx="208.46" cy="343.04" r="3.6" fill="#FFFF00"/>
<circle cx="209.78" cy="338.39" r="3.6" fill="#FFFF00"/>
<circle cx="211.1" cy="375.55" r="3.6" fill="#FFFF00"/>
<circle cx="212.42" cy="327.15" r="3.6" fill="#FFFF00"/>
<circle cx="213.74" cy="326.98" r="3.6" fill="#FFFF00"/>
<circle cx="215.06" cy="372.46" r="3.6" fill="#FFFF00"/>
<circle cx="216.38" cy="360.58" r="3.6" fill="#FFFF00"/>
<circle cx="217.7" cy="343.77" r="3.6" fill="#FFFF00"/>
<circle cx="219.02" cy="374.54" r="3.6" fill="#FFFF00"/>
<circle cx="220.34" cy="338.06" r="3.6" fill="#FFFF00"/>
<circle cx="221.66" cy="332.33" r="3.6" fill="#FFFF00"/>
<circle cx="222.99" cy="275.97" r="3.6" fill="#FFFF00"/>
<circle cx="224.31" cy="356.88" r="3.6" fill="#FFFF00"/>
<circle cx="225.63" cy="296.02" r="3.6" fill="#FFFF00"/>
<circle cx="226.95" cy="352.63" r="3.6" fill="#FFFF00"/>
<circle cx="228.27" cy="281.79" r="3.6" fill="#FFFF00"/>
<circle cx="229.59" cy="343.93" r="3.6" fill="#FFFF00"/>
<circle cx="230.91" cy="295.55" r="3.6" fill="#FFFF00"/>
<circle cx="232.23" cy="337.08" r="3.6" fill="#FFFF00"/>
<circle cx="233.55" cy="285.7" r="3.6" fill="#FFFF00"/>
<circle cx="234.87" cy="355.88" r="3.6" fill="#FFFF00"/>
<circle cx="236.19" cy="375.19" r="3.6" fill="#FFFF00"/>
<circle cx="237.51" cy="363.62" r="3.6" fill="#FFFF00"/>
<circle cx="238.83" cy="342.73" r="3.6" fill="#FFFF00"/>
<circle cx="240.15" cy="354.75" r="3.6" fill="#FFFF00"/>
<circle cx="241.47" cy="316.88" r="3.6" fill="#FFFF00"/>
<circle cx="242.79" cy="357.68" r="3.6" fill="#FFFF00"/>
<circle cx="244.11" cy="326.39" r="3.6" fill="#FFFF00"/>
<circle cx="245.43" cy="361.62" r="3.6" fill="#FFFF00"/>
<circle cx="246.75" cy="386.92" r="3.6" fill="#FFFF00"/>
<circle cx="248.07" cy="312.81" r="3.6" fill="#FFFF00"/>
<circle cx="249.4" cy="343.97" r="3.6" fill="#FFFF00"/>
<circle cx="250.72" cy="313" r="3.6" fill="#FFFF00"/>
<circle cx="252.04" cy="366.96" r="3.6" fill="#FFFF00"/>
<circle cx="253.36" cy="317.71" r="3.6" fill="#FFFF00"/>
<circle cx="254.68" cy="369.41" r="3.6" fill="#FFFF00"/>
<circle cx="256" cy="390.27" r="3.6" fill="#FFFF00"/>
<circle cx="257.32" cy="365.05" r="3.6" fill="#FFFF00"/>
<circle cx="258.64" cy="314.61" r="3.6" fill="#FFFF00"/>
<circle cx="259.96" cy="290.27" r="3.6" fill="#FFFF00"/>
<circle cx="261.28" cy="364.88" r="3.6" fill="#FFFF00"/>
<circle cx="262.6" cy="332.36" r="3.6" fill="#FFFF00"/>
<circle cx="263.92" cy="357.22" r="3.6" fill="#FFFF00"/>
<circle cx="265.24" cy="306.59" r="3.6" fill="#FFFF00"/>
<circle cx="266.56" cy="363.2" r="3.6" fill="#FFFF00"/>
<circle cx="267.88" cy="391.05" r="3.6" fill="#FFFF00"/>
<circle cx="269.2" cy="311.2" r="3.6" fill="#FFFF00"/>
<circle cx="270.52" cy="336.07" r="3.6" fill="#FFFF00"/>
<circle cx="271.84" cy="334.38" r="3.6" fill="#FFFF00"/>
<circle cx="273.16" cy="323.31" r="3.6" fill="#FFFF00"/>
<circle cx="274.49" cy="361.29" r="3.6" fill="#FFFF00"/>
<circle cx="275.81" cy="331.43" r="3.6" fill="#FFFF00"/>
<circle cx="277.13" cy="356.89" r="3.6" fill="#FFFF00"/>
<circle cx="278.45" cy="367.71" r="3.6" fill="#FFFF00"/>
<circle cx="279.77" cy="331.96" r="3.6" fill="#FFFF00"/>
<circle cx="281.09" cy="294.95" r="3.6" fill="#FFFF00"/>
<circle cx="282.41" cy="368.47" r="3.6" fill="#FFFF00"/>
<circle cx="283.73" cy="309.22" r="3.6" fill="#FFFF00"/>
<circle cx="285.05" cy="373.68" r="3.6" fill="#FFFF00"/>
<circle cx="286.37" cy="343.41" r="3.6" fill="#FFFF00"/>
<circle cx="287.69" cy="335.49" r="3.6" fill="#FFFF00"/>
<circle cx="289.01" cy="374.32" r="3.6" fill="#FFFF00"/>
<circle cx="290.33" cy="327.43" r="3.6" fill="#FFFF00"/>
<circle cx="291.65" cy="312.55" r="3.6" fill="#FFFF00"/>
<circle cx="292.97" cy="355.38" r="3.6" fill="#FFFF00"/>
<circle cx="294.29" cy="330.7" r="3.6" fill="#FFFF00"/>
<circle cx="295.61" cy="326.4" r="3.6" fill="#FFFF00"/>
<circle cx="296.93" cy="346.89" r="3.6" fill="#FFFF00"/>
<circle cx="298.25" cy="282.9" r="3.6" fill="#FFFF00"/>
<circle cx="299.57" cy="348.91" r="3.6" fill="#FFFF00"/>
<circle cx="300.9" cy="312.71" r="3.6" fill="#FFFF00"/>
<circle cx="302.22" cy="352.54" r="3.6" fill="#FFFF00"/>
<circle cx="303.54" cy="311.12" r="3.6" fill="#FFFF00"/>
<circle cx="304.86" cy="352.72" r="3.6" fill="#FFFF00"/>
<circle cx="306.18" cy="276.26" r="3.6" fill="#FFFF00"/>
<circle cx="307.5" cy="345.96" r="3.6" fill="#FFFF00"/>
<circle cx="308.82" cy="286.6" r="3.6" fill="#FFFF00"/>
<circle cx="310.14" cy="344.33" r="3.6" fill="#FFFF00"/>
<circle cx="311.46" cy="358.88" r="3.6" fill="#FFFF00"/>
<circle cx="312.78" cy="322.08" r="3.6" fill="#FFFF00"/>
<circle cx="314.1" cy="328.38" r="3.6" fill="#FFFF00"/>
<polyline points="51.32,347.12 52.64,322.22 53.96,381.06 55.28,319.2 56.6,385.94 57.92,320.51 59.24,353.25 60.56,316.37 61.88,341.27 63.2,327.33 64.53,351.27 65.85,335.44 67.17,352.07 68.49,288.77 69.81,313.18 71.13,357.62 72.45,320.51 73.77,379.35 75.09,326.65 76.41,347.45 77.73,331.01 79.05,366.2 80.37,363.23 81.69,329.76 83.01,350.7 84.33,318.07 85.65,363.97 86.97,306.1 88.29,300.49 89.62,364.01 90.94,285.84 92.26,356.54 93.58,318.77 94.9,373 96.22,291.21 97.54,371.29 98.86,312.62 100.18,338.44 101.5,355.18 102.82,293.91 104.14,284.13 105.46,366.65 106.78,291.7 108.1,352.09 109.42,318.07 110.74,396.19 112.06,292.69 113.38,285.11 114.7,327.34 116.03,314.58 117.35,348.06 118.67,339.8 119.99,279.25 121.31,336.51 122.63,349.56 123.95,383.5 125.27,294.39 126.59,355.18 127.91,309.26 129.23,328.36 130.55,344.68 131.87,311.72 133.19,285.84 134.51,338.32 135.83,313.99 137.15,376.17 138.47,294.14 139.79,370.87 141.11,268.99 142.44,374.95 143.76,330 145.08,370.06 146.4,312.09 147.72,291.7 149.04,368.12 150.36,358.35 151.68,306.1 153,364.48 154.32,376.91 155.64,317.76 156.96,343.16 158.28,332.72 159.6,312.84 160.92,346.25 162.24,274.37 163.56,356.89 164.88,315.27 166.2,289.26 167.52,335.35 168.85,294.87 170.17,331.92 171.49,359.33 172.81,319.2 174.13,313.18 175.45,389.11 176.77,321.07 178.09,340.8 179.41,315.63 180.73,342.48 182.05,307.22 183.37,308.55 184.69,301.95 186.01,360.79 187.33,294.14 188.65,366.65 189.97,293.16 191.29,359.33 192.61,389.11 193.93,349.04 195.26,335.16 196.58,353.94 197.9,386.67 199.22,342.32 200.54,331.01 201.86,355.34 203.18,351.75 204.5,365.07 205.82,373 207.14,306.84 208.46,363.51 209.78,351.62 211.1,374.46 212.42,334.47 213.74,330.27 215.06,370.42 216.38,375.44 217.7,349.16 219.02,370.95 220.34,337.35 221.66,335.89 222.99,264.84 224.31,360.06 225.63,287.88 226.95,344.74 228.27,278.76 229.59,340.61 230.91,294.6 232.23,327.87 233.55,283.64 234.87,354.69 236.19,376.91 237.51,366.65 238.83,334.91 240.15,359.33 241.47,304.4 242.79,355.78 244.11,324.91 245.43,356.42 246.75,386.67 248.07,311.96 249.4,339.83 250.72,312.42 252.04,353.23 253.36,308.55 254.68,369.61 256,389.11 257.32,379.35 258.64,313.18 259.96,302.93 261.28,363.23 262.6,329.95 263.92,357.48 265.24,311.93 266.56,361.32 267.88,391.55 269.2,290.72 270.52,341.28 271.84,334.55 273.16,322.22 274.49,372.02 275.81,332.42 277.13,361.16 278.45,358.35 279.77,327.83 281.09,301.95 282.41,368.32 283.73,306.1 285.05,372.02 286.37,343.21 287.69,332.3 289.01,372.02 290.33,326.44 291.65,306.1 292.97,364.94 294.29,333.55 295.61,321.35 296.93,342.76 298.25,288.77 299.57,344.68 300.9,300.64 302.22,352.19 303.54,299.18 304.86,349.55 306.18,272.17 307.5,352.65 308.82,296.15 310.14,339.06 311.46,360.06 312.78,320.24 314.1,327.83" fill="none" stroke="#D60094" stroke-width="2.2" stroke-linejoin="round"/>
<circle cx="51.32" cy="347.12" r="3.6" fill="#D60094"/>
<circle cx="52.64" cy="322.22" r="3.6" fill="#D60094"/>
<circle cx="53.96" cy="381.06" r="3.6" fill="#D60094"/>
<circle cx="55.28" cy="319.2" r="3.6" fill="#D60094"/>
<circle cx="56.6" cy="385.94" r="3.6" fill="#D60094"/>
<circle cx="57.92" cy="320.51" r="3.6" fill="#D60094"/>
<circle cx="59.24" cy="353.25" r="3.6" fill="#D60094"/>
<circle cx="60.56" cy="316.37" r="3.6" fill="#D60094"/>
<circle cx="61.88" cy="341.27" r="3.6" fill="#D60094"/>
<circle cx="63.2" cy="327.33" r="3.6" fill="#D60094"/>
<circle cx="64.53" cy="351.27" r="3.6" fill="#D60094"/>
<circle cx="65.85" cy="335.44" r="3.6" fill="#D60094"/>
<circle cx="67.17" cy="352.07" r="3.6" fill="#D60094"/>
<circle cx="68.49" cy="288.77" r="3.6" fill="#D60094"/>
<circle cx="69.81" cy="313.18" r="3.6" fill="#D60094"/>
<circle cx="71.13" cy="357.62" r="3.6" fill="#D60094"/>
<circle cx="72.45" cy="320.51" r="3.6" fill="#D60094"/>
<circle cx="73.77" cy="379.35" r="3.6" fill="#D60094"/>
<circle cx="75.09" cy="326.65" r="3.6" fill="#D60094"/>
<circle cx="76.41" cy="347.45" r="3.6" fill="#D60094"/>
<circle cx="77.73" cy="331.01" r="3.6" fill="#D60094"/>
<circle cx="79.05" cy="366.2" r="3.6" fill="#D60094"/>
<circle cx="80.37" cy="363.23" r="3.6" fill="#D60094"/>
<circle cx="81.69" cy="329.76" r="3.6" fill="#D60094"/>
<circle cx="83.01" cy="350.7" r="3.6" fill="#D60094"/>
<circle cx="84.33" cy="318.07" r="3.6" fill="#D60094"/>
<circle cx="85.65" cy="363.97" r="3.6" fill="#D60094"/>
<circle cx="86.97" cy="306.1" r="3.6" fill="#D60094"/>
<circle cx="88.29" cy="300.49" r="3.6" fill="#D60094"/>
<circle cx="89.62" cy="364.01" r="3.6" fill="#D60094"/>
<circle cx="90.94" cy="285.84" r="3.6" fill="#D60094"/>
<circle cx="92.26" cy="356.54" r="3.6" fill="#D60094"/>
<circle cx="93.58" cy="318.77" r="3.6" fill="#D60094"/>
<circle cx="94.9" cy="373" r="3.6" fill="#D60094"/>
<circle cx="96.22" cy="291.21" r="3.6" fill="#D60094"/>
<circle cx="97.54" cy="371.29" r="3.6" fill="#D60094"/>
<circle cx="98.86" cy="312.62" r="3.6" fill="#D60094"/>
<circle cx="100.18" cy="338.44" r="3.6" fill="#D60094"/>
<circle cx="101.5" cy="355.18" r="3.6" fill="#D60094"/>
<circle cx="102.82" cy="293.91" r="3.6" fill="#D60094"/>
<circle cx="104.14" cy="284.13" r="3.6" fill="#D60094"/>
<circle cx="105.46" cy="366.65" r="3.6" fill="#D60094"/>
<circle cx="106.78" cy="291.7" r="3.6" fill="#D60094"/>
<circle cx="108.1" cy="352.09" r="3.6" fill="#D60094"/>
<circle cx="109.42" cy="318.07" r="3.6" fill="#D60094"/>
<circle cx="110.74" cy="396.19" r="3.6" fill="#D60094"/>
<circle cx="112.06" cy="292.69" r="3.6" fill="#D60094"/>
<circle cx="113.38" cy="285.11" r="3.6" fill="#D60094"/>
<circle cx="114.7" cy="327.34" r="3.6" fill="#D60094"/>
<circle cx="116.03" cy="314.58" r="3.6" fill="#D60094"/>
<circle cx="117.35" cy="348.06" r="3.6" fill="#D60094"/>
<circle cx="118.67" cy="339.8" r="3.6" fill="#D60094"/>
<circle cx="119.99" cy="279.25" r="3.6" fill="#D60094"/>
<circle cx="121.31" cy="336.51" r="3.6" fill="#D60094"/>
<circle cx="122.63" cy="349.56" r="3.6" fill="#D60094"/>
<circle cx="123.95" cy="383.5" r="3.6" fill="#D60094"/>
<circle cx="125.27" cy="294.39" r="3.6" fill="#D60094"/>
<circle cx="126.59" cy="355.18" r="3.6" fill="#D60094"/>
<circle cx="127.91" cy="309.26" r="3.6" fill="#D60094"/>
<circle cx="129.23" cy="328.36" r="3.6" fill="#D60094"/>
<circle cx="130.55" cy="344.68" r="3.6" fill="#D60094"/>
<circle cx="131.87" cy="311.72" r="3.6" fill="#D60094"/>
<circle cx="133.19" cy="285.84" r="3.6" fill="#D60094"/>
<circle cx="134.51" cy="338.32" r="3.6" fill="#D60094"/>
<circle cx="135.83" cy="313.99" r="3.6" fill="#D60094"/>
<circle cx="137.15" cy="376.17" r="3.6" fill="#D60094"/>
<circle cx="138.47" cy="294.14" r="3.6" fill="#D60094"/>
<circle cx="139.79" cy="370.87" r="3.6" fill="#D60094"/>
<circle cx="141.11" cy="268.99" r="3.6" fill="#D60094"/>
<circle cx="142.44" cy="374.95" r="3.6" fill="#D60094"/>
<circle cx="143.76" cy="330" r="3.6" fill="#D60094"/>
<circle cx="145.08" cy="370.06" r="3.6" fill="#D60094"/>
<circle cx="146.4" cy="312.09" r="3.6" fill="#D60094"/>
<circle cx="147.72" cy="291.7" r="3.6" fill="#D60094"/>
<circle cx="149.04" cy="368.12" r="3.6" fill="#D60094"/>
<circle cx="150.36" cy="358.35" r="3.6" fill="#D60094"/>
<circle cx="151.68" cy="306.1" r="3.6" fill="#D60094"/>
<circle cx="153" cy="364.48" r="3.6" fill="#D60094"/>
<circle cx="154.32" cy="376.91" r="3.6" fill="#D60094"/>
<circle cx="155.64" cy="317.76" r="3.6" fill="#D60094"/>
<circle cx="156.96" cy="343.16" r="3.6" fill="#D60094"/>
<circle cx="158.28" cy="332.72" r="3.6" fill="#D60094"/>
<circle cx="159.6" cy="312.84" r="3.6" fill="#D60094"/>
<circle cx="160.92" cy="346.25" r="3.6" fill="#D60094"/>
<circle cx="162.24" cy="274.37" r="3.6" fill="#D60094"/>
<circle cx="163.56" cy="356.89" r="3.6" fill="#D60094"/>
<circle cx="164.88" cy="315.27" r="3.6" fill="#D60094"/>
<circle cx="166.2" cy="289.26" r="3.6" fill="#D60094"/>
<circle cx="167.52" cy="335.35" r="3.6" fill="#D60094"/>
<circle cx="168.85" cy="294.87" r="3.6" fill="#D60094"/>
<circle cx="170.17" cy="331.92" r="3.6" fill="#D60094"/>
<circle cx="171.49" cy="359.33" r="3.6" fill="#D60094"/>
<circle cx="172.81" cy="319.2" r="3.6" fill="#D60094"/>
<circle cx="174.13" cy="313.18" r="3.6" fill="#D60094"/>
<circle cx="175.45" cy="389.11" r="3.6" fill="#D60094"/>
<circle cx="176.77" cy="321.07" r="3.6" fill="#D60094"/>
<circle cx="178.09" cy="340.8" r="3.6" fill="#D60094"/>
<circle cx="179.41" cy="315.63" r="3.6" fill="#D60094"/>
<circle cx="180.73" cy="342.48" r="3.6" fill="#D60094"/>
<circle cx="182.05" cy="307.22" r="3.6" fill="#D60094"/>
<circle cx="183.37" cy="308.55" r="3.6" fill="#D60094"/>
<circle cx="184.69" cy="301.95" r="3.6" fill="#D60094"/>
<circle cx="186.01" cy="360.79" r="3.6" fill="#D60094"/>
<circle cx="187.33" cy="294.14" r="3.6" fill="#D60094"/>
<circle cx="188.65" cy="366.65" r="3.6" fill="#D60094"/>
<circle cx="189.97" cy="293.16" r="3.6" fill="#D60094"/>
<circle cx="191.29" cy="359.33" r="3.6" fill="#D60094"/>
<circle cx="192.61" cy="389.11" r="3.6" fill="#D60094"/>
<circle cx="193.93" cy="349.04" r="3.6" fill="#D60094"/>
<circle cx="195.26" cy="335.16" r="3.6" fill="#D60094"/>
<circle cx="196.58" cy="353.94" r="3.6" fill="#D60094"/>
<circle cx="197.9" cy="386.67" r="3.6" fill="#D60094"/>
<circle cx="199.22" cy="342.32" r="3.6" fill="#D60094"/>
<circle cx="200.54" cy="331.01" r="3.6" fill="#D60094"/>
<circle cx="201.86" cy="355.34" r="3.6" fill="#D60094"/>
<circle cx="203.18" cy="351.75" r="3.6" fill="#D60094"/>
<circle cx="204.5" cy="365.07" r="3.6" fill="#D60094"/>
<circle cx="205.82" cy="373" r="3.6" fill="#D60094"/>
<circle cx="207.14" cy="306.84" r="3.6" fill="#D60094"/>
<circle cx="208.46" cy="363.51" r="3.6" fill="#D60094"/>
<circle cx="209.78" cy="351.62" r="3.6" fill="#D60094"/>
<circle cx="211.1" cy="374.46" r="3.6" fill="#D60094"/>
<circle cx="212.42" cy="334.47" r="3.6" fill="#D60094"/>
<circle cx="213.74" cy="330.27" r="3.6" fill="#D60094"/>
<circle cx="215.06" cy="370.42" r="3.6" fill="#D60094"/>
<circle cx="216.38" cy="375.44" r="3.6" fill="#D60094"/>
<circle cx="217.7" cy="349.16" r="3.6" fill="#D60094"/>
<circle cx="219.02" cy="370.95" r="3.6" fill="#D60094"/>
<circle cx="220.34" cy="337.35" r="3.6" fill="#D60094"/>
<circle cx="221.66" cy="335.89" r="3.6" fill="#D60094"/>
<circle cx="222.99" cy="264.84" r="3.6" fill="#D60094"/>
<circle cx="224.31" cy="360.06" r="3.6" fill="#D60094"/>
<circle cx="225.63" cy="287.88" r="3.6" fill="#D60094"/>
<circle cx="226.95" cy="344.74" r="3.6" fill="#D60094"/>
<circle cx="228.27" cy="278.76" r="3.6" fill="#D60094"/>
<circle cx="229.59" cy="340.61" r="3.6" fill="#D60094"/>
<circle cx="230.91" cy="294.6" r="3.6" fill="#D60094"/>
<circle cx="232.23" cy="327.87" r="3.6" fill="#D60094"/>
<circle cx="233.55" cy="283.64" r="3.6" fill="#D60094"/>
<circle cx="234.87" cy="354.69" r="3.6" fill="#D60094"/>
<circle cx="236.19" cy="376.91" r="3.6" fill="#D60094"/>
<circle cx="237.51" cy="366.65" r="3.6" fill="#D60094"/>
<circle cx="238.83" cy="334.91" r="3.6" fill="#D60094"/>
<circle cx="240.15" cy="359.33" r="3.6" fill="#D60094"/>
<circle cx="241.47" cy="304.4" r="3.6" fill="#D60094"/>
<circle cx="242.79" cy="355.78" r="3.6" fill="#D60094"/>
<circle cx="244.11" cy="324.91" r="3.6" fill="#D60094"/>
<circle cx="245.43" cy="356.42" r="3.6" fill="#D60094"/>
<circle cx="246.75" cy="386.67" r="3.6" fill="#D60094"/>
<circle cx="248.07" cy="311.96" r="3.6" fill="#D60094"/>
<circle cx="249.4" cy="339.83" r="3.6" fill="#D60094"/>
<circle cx="250.72" cy="312.42" r="3.6" fill="#D60094"/>
<circle cx="252.04" cy="353.23" r="3.6" fill="#D60094"/>
<circle cx="253.36" cy="308.55" r="3.6" fill="#D60094"/>
<circle cx="254.68" cy="369.61" r="3.6" fill="#D60094"/>
<circle cx="256" cy="389.11" r="3.6" fill="#D60094"/>
<circle cx="257.32" cy="379.35" r="3.6" fill="#D60094"/>
<circle cx="258.64" cy="313.18" r="3.6" fill="#D60094"/>
<circle cx="259.96" cy="302.93" r="3.6" fill="#D60094"/>
<circle cx="261.28" cy="363.23" r="3.6" fill="#D60094"/>
<circle cx="262.6" cy="329.95" r="3.6" fill="#D60094"/>
<circle cx="263.92" cy="357.48" r="3.6" fill="#D60094"/>
<circle cx="265.24" cy="311.93" r="3.6" fill="#D60094"/>
<circle cx="266.56" cy="361.32" r="3.6" fill="#D60094"/>
<circle cx="267.88" cy="391.55" r="3.6" fill="#D60094"/>
<circle cx="269.2" cy="290.72" r="3.6" fill="#D60094"/>
<circle cx="270.52" cy="341.28" r="3.6" fill="#D60094"/>
<circle cx="271.84" cy="334.55" r="3.6" fill="#D60094"/>
<circle cx="273.16" cy="322.22" r="3.6" fill="#D60094"/>
<circle cx="274.49" cy="372.02" r="3.6" fill="#D60094"/>
<circle cx="275.81" cy="332.42" r="3.6" fill="#D60094"/>
<circle cx="277.13" cy="361.16" r="3.6" fill="#D60094"/>
<circle cx="278.45" cy="358.35" r="3.6" fill="#D60094"/>
<circle cx="279.77" cy="327.83" r="3.6" fill="#D60094"/>
<circle cx="281.09" cy="301.95" r="3.6" fill="#D60094"/>
<circle cx="282.41" cy="368.32" r="3.6" fill="#D60094"/>
<circle cx="283.73" cy="306.1" r="3.6" fill="#D60094"/>
<circle cx="285.05" cy="372.02" r="3.6" fill="#D60094"/>
<circle cx="286.37" cy="343.21" r="3.6" fill="#D60094"/>
<circle cx="287.69" cy="332.3" r="3.6" fill="#D60094"/>
<circle cx="289.01" cy="372.02" r="3.6" fill="#D60094"/>
<circle cx="290.33" cy="326.44" r="3.6" fill="#D60094"/>
<circle cx="291.65" cy="306.1" r="3.6" fill="#D60094"/>
<circle cx="292.97" cy="364.94" r="3.6" fill="#D60094"/>
<circle cx="294.29" cy="333.55" r="3.6" fill="#D60094"/>
<circle cx="295.61" cy="321.35" r="3.6" fill="#D60094"/>
<circle cx="296.93" cy="342.76" r="3.6" fill="#D60094"/>
<circle cx="298.25" cy="288.77" r="3.6" fill="#D60094"/>
<circle cx="299.57" cy="344.68" r="3.6" fill="#D60094"/>
<circle cx="300.9" cy="300.64" r="3.6" fill="#D60094"/>
<circle cx="302.22" cy="352.19" r="3.6" fill="#D60094"/>
<circle cx="303.54" cy="299.18" r="3.6" fill="#D60094"/>
<circle cx="304.86" cy="349.55" r="3.6" fill="#D60094"/>
<circle cx="306.18" cy="272.17" r="3.6" fill="#D60094"/>
<circle cx="307.5" cy="352.65" r="3.6" fill="#D60094"/>
<circle cx="308.82" cy="296.15" r="3.6" fill="#D60094"/>
<circle cx="310.14" cy="339.06" r="3.6" fill="#D60094"/>
<circle cx="311.46" cy="360.06" r="3.6" fill="#D60094"/>
<circle cx="312.78" cy="320.24" r="3.6" fill="#D60094"/>
<circle cx="314.1" cy="327.83" r="3.6" fill="#D60094"/>
<text x="38.7" y="414.2" font-size="12" text-anchor="end" font-weight="normal" fill="#111" >0</text>
<text x="38.7" y="389.79" font-size="12" text-anchor="end" font-weight="normal" fill="#111" >10</text>
<text x="38.7" y="365.37" font-size="12" text-anchor="end" font-weight="normal" fill="#111" >20</text>
<text x="38.7" y="340.96" font-size="12" text-anchor="end" font-weight="normal" fill="#111" >30</text>
<text x="38.7" y="316.54" font-size="12" text-anchor="end" font-weight="normal" fill="#111" >40</text>
<text x="38.7" y="292.13" font-size="12" text-anchor="end" font-weight="normal" fill="#111" >50</text>
<text x="38.7" y="267.71" font-size="12" text-anchor="end" font-weight="normal" fill="#111" >60</text>
<text x="38.7" y="243.3" font-size="12" text-anchor="end" font-weight="normal" fill="#111" >70</text>
<text x="50" y="427.5" font-size="12" text-anchor="middle" font-weight="normal" fill="#111" >0</text>
<text x="116.03" y="427.5" font-size="12" text-anchor="middle" font-weight="normal" fill="#111" >50</text>
<text x="182.05" y="427.5" font-size="12" text-anchor="middle" font-weight="normal" fill="#111" >100</text>
<text x="248.07" y="427.5" font-size="12" text-anchor="middle" font-weight="normal" fill="#111" >150</text>
<text x="314.1" y="427.5" font-size="12" text-anchor="middle" font-weight="normal" fill="#111" >200</text>
<text transform="translate(12.3,316.8) rotate(-90)" font-size="14" text-anchor="middle" font-weight="bold" fill="#000">Fc (MPa)</text>
<text x="188.6" y="440" font-size="14" text-anchor="middle" font-weight="bold" fill="#000" >Row number</text>
<text x="163.8" y="460" font-size="14.5" text-anchor="middle" font-weight="normal" fill="#111" >(c)</text>
<line x1="82.3" y1="252.5" x2="109.5" y2="252.5" stroke="#FFFF00" stroke-width="2.6"/>
<circle cx="95.5" cy="252.5" r="3.8" fill="#FFFF00"/>
<text x="113.2" y="256.9" font-size="12.5" text-anchor="start" font-weight="bold" fill="#000" >Predicted</text>
<line x1="183.6" y1="252.5" x2="211" y2="252.5" stroke="#D60094" stroke-width="2.6"/>
<circle cx="197" cy="252.5" r="3.8" fill="#D60094"/>
<text x="214.4" y="256.9" font-size="12.5" text-anchor="start" font-weight="bold" fill="#000" >Experimental</text>
<rect x="411.8" y="238.8" width="264.2" height="169.7" fill="none" stroke="#000" stroke-width="1.8"/>
<polyline points="417.08,361.47 422.37,333.35 427.65,376.98 432.94,317.35 438.22,372.14 443.5,369.71 448.79,323.65 454.07,357.59 459.36,306.68 464.64,318.8 469.92,351.53 475.21,338.68 480.49,289.95 485.78,294.32 491.06,333.59 496.34,335.29 501.63,373.11 506.91,324.13 512.2,309.1 517.48,379.41 522.76,353.47 528.05,350.32 533.33,355.17 538.62,333.1 543.9,292.13 549.18,357.11 554.47,343.29 559.75,317.35 565.04,299.41 570.32,378.68 575.6,352.74 580.89,321.23 586.17,321.23 591.46,361.71 596.74,306.68 602.02,352.01 607.31,335.29 612.59,318.8 617.88,349.11 623.16,338.68 628.44,376.5 633.73,313.95 639.01,272.26 644.3,337.95 649.58,375.77 654.86,368.01 660.15,301.1 665.43,370.44 670.72,312.74 676,390.32" fill="none" stroke="#FFFF00" stroke-width="2.4" stroke-linejoin="round"/>
<circle cx="417.08" cy="361.47" r="4.0" fill="#FFFF00"/>
<circle cx="422.37" cy="333.35" r="4.0" fill="#FFFF00"/>
<circle cx="427.65" cy="376.98" r="4.0" fill="#FFFF00"/>
<circle cx="432.94" cy="317.35" r="4.0" fill="#FFFF00"/>
<circle cx="438.22" cy="372.14" r="4.0" fill="#FFFF00"/>
<circle cx="443.5" cy="369.71" r="4.0" fill="#FFFF00"/>
<circle cx="448.79" cy="323.65" r="4.0" fill="#FFFF00"/>
<circle cx="454.07" cy="357.59" r="4.0" fill="#FFFF00"/>
<circle cx="459.36" cy="306.68" r="4.0" fill="#FFFF00"/>
<circle cx="464.64" cy="318.8" r="4.0" fill="#FFFF00"/>
<circle cx="469.92" cy="351.53" r="4.0" fill="#FFFF00"/>
<circle cx="475.21" cy="338.68" r="4.0" fill="#FFFF00"/>
<circle cx="480.49" cy="289.95" r="4.0" fill="#FFFF00"/>
<circle cx="485.78" cy="294.32" r="4.0" fill="#FFFF00"/>
<circle cx="491.06" cy="333.59" r="4.0" fill="#FFFF00"/>
<circle cx="496.34" cy="335.29" r="4.0" fill="#FFFF00"/>
<circle cx="501.63" cy="373.11" r="4.0" fill="#FFFF00"/>
<circle cx="506.91" cy="324.13" r="4.0" fill="#FFFF00"/>
<circle cx="512.2" cy="309.1" r="4.0" fill="#FFFF00"/>
<circle cx="517.48" cy="379.41" r="4.0" fill="#FFFF00"/>
<circle cx="522.76" cy="353.47" r="4.0" fill="#FFFF00"/>
<circle cx="528.05" cy="350.32" r="4.0" fill="#FFFF00"/>
<circle cx="533.33" cy="355.17" r="4.0" fill="#FFFF00"/>
<circle cx="538.62" cy="333.1" r="4.0" fill="#FFFF00"/>
<circle cx="543.9" cy="292.13" r="4.0" fill="#FFFF00"/>
<circle cx="549.18" cy="357.11" r="4.0" fill="#FFFF00"/>
<circle cx="554.47" cy="343.29" r="4.0" fill="#FFFF00"/>
<circle cx="559.75" cy="317.35" r="4.0" fill="#FFFF00"/>
<circle cx="565.04" cy="299.41" r="4.0" fill="#FFFF00"/>
<circle cx="570.32" cy="378.68" r="4.0" fill="#FFFF00"/>
<circle cx="575.6" cy="352.74" r="4.0" fill="#FFFF00"/>
<circle cx="580.89" cy="321.23" r="4.0" fill="#FFFF00"/>
<circle cx="586.17" cy="321.23" r="4.0" fill="#FFFF00"/>
<circle cx="591.46" cy="361.71" r="4.0" fill="#FFFF00"/>
<circle cx="596.74" cy="306.68" r="4.0" fill="#FFFF00"/>
<circle cx="602.02" cy="352.01" r="4.0" fill="#FFFF00"/>
<circle cx="607.31" cy="335.29" r="4.0" fill="#FFFF00"/>
<circle cx="612.59" cy="318.8" r="4.0" fill="#FFFF00"/>
<circle cx="617.88" cy="349.11" r="4.0" fill="#FFFF00"/>
<circle cx="623.16" cy="338.68" r="4.0" fill="#FFFF00"/>
<circle cx="628.44" cy="376.5" r="4.0" fill="#FFFF00"/>
<circle cx="633.73" cy="313.95" r="4.0" fill="#FFFF00"/>
<circle cx="639.01" cy="272.26" r="4.0" fill="#FFFF00"/>
<circle cx="644.3" cy="337.95" r="4.0" fill="#FFFF00"/>
<circle cx="649.58" cy="375.77" r="4.0" fill="#FFFF00"/>
<circle cx="654.86" cy="368.01" r="4.0" fill="#FFFF00"/>
<circle cx="660.15" cy="301.1" r="4.0" fill="#FFFF00"/>
<circle cx="665.43" cy="370.44" r="4.0" fill="#FFFF00"/>
<circle cx="670.72" cy="312.74" r="4.0" fill="#FFFF00"/>
<circle cx="676" cy="390.32" r="4.0" fill="#FFFF00"/>
<polyline points="417.08,361.47 422.37,335.77 427.65,377.71 432.94,324.62 438.22,372.38 443.5,367.29 448.79,328.01 454.07,357.59 459.36,304.5 464.64,316.62 469.92,355.17 475.21,335.53 480.49,280.98 485.78,291.16 491.06,325.59 496.34,340.38 501.63,365.11 506.91,316.13 512.2,308.86 517.48,378.68 522.76,350.56 528.05,347.65 533.33,355.17 538.62,340.38 543.9,291.89 549.18,353.47 554.47,350.56 559.75,317.35 565.04,294.56 570.32,383.53 575.6,352.98 580.89,326.07 586.17,320.5 591.46,355.41 596.74,305.23 602.02,348.38 607.31,342.8 612.59,316.13 617.88,349.35 623.16,330.68 628.44,372.14 633.73,312.98 639.01,266.68 644.3,342.8 649.58,376.5 654.86,374.08 660.15,296.74 665.43,376.5 670.72,312.01 676,384.5" fill="none" stroke="#D60094" stroke-width="2.4" stroke-linejoin="round"/>
<circle cx="417.08" cy="361.47" r="4.0" fill="#D60094"/>
<circle cx="422.37" cy="335.77" r="4.0" fill="#D60094"/>
<circle cx="427.65" cy="377.71" r="4.0" fill="#D60094"/>
<circle cx="432.94" cy="324.62" r="4.0" fill="#D60094"/>
<circle cx="438.22" cy="372.38" r="4.0" fill="#D60094"/>
<circle cx="443.5" cy="367.29" r="4.0" fill="#D60094"/>
<circle cx="448.79" cy="328.01" r="4.0" fill="#D60094"/>
<circle cx="454.07" cy="357.59" r="4.0" fill="#D60094"/>
<circle cx="459.36" cy="304.5" r="4.0" fill="#D60094"/>
<circle cx="464.64" cy="316.62" r="4.0" fill="#D60094"/>
<circle cx="469.92" cy="355.17" r="4.0" fill="#D60094"/>
<circle cx="475.21" cy="335.53" r="4.0" fill="#D60094"/>
<circle cx="480.49" cy="280.98" r="4.0" fill="#D60094"/>
<circle cx="485.78" cy="291.16" r="4.0" fill="#D60094"/>
<circle cx="491.06" cy="325.59" r="4.0" fill="#D60094"/>
<circle cx="496.34" cy="340.38" r="4.0" fill="#D60094"/>
<circle cx="501.63" cy="365.11" r="4.0" fill="#D60094"/>
<circle cx="506.91" cy="316.13" r="4.0" fill="#D60094"/>
<circle cx="512.2" cy="308.86" r="4.0" fill="#D60094"/>
<circle cx="517.48" cy="378.68" r="4.0" fill="#D60094"/>
<circle cx="522.76" cy="350.56" r="4.0" fill="#D60094"/>
<circle cx="528.05" cy="347.65" r="4.0" fill="#D60094"/>
<circle cx="533.33" cy="355.17" r="4.0" fill="#D60094"/>
<circle cx="538.62" cy="340.38" r="4.0" fill="#D60094"/>
<circle cx="543.9" cy="291.89" r="4.0" fill="#D60094"/>
<circle cx="549.18" cy="353.47" r="4.0" fill="#D60094"/>
<circle cx="554.47" cy="350.56" r="4.0" fill="#D60094"/>
<circle cx="559.75" cy="317.35" r="4.0" fill="#D60094"/>
<circle cx="565.04" cy="294.56" r="4.0" fill="#D60094"/>
<circle cx="570.32" cy="383.53" r="4.0" fill="#D60094"/>
<circle cx="575.6" cy="352.98" r="4.0" fill="#D60094"/>
<circle cx="580.89" cy="326.07" r="4.0" fill="#D60094"/>
<circle cx="586.17" cy="320.5" r="4.0" fill="#D60094"/>
<circle cx="591.46" cy="355.41" r="4.0" fill="#D60094"/>
<circle cx="596.74" cy="305.23" r="4.0" fill="#D60094"/>
<circle cx="602.02" cy="348.38" r="4.0" fill="#D60094"/>
<circle cx="607.31" cy="342.8" r="4.0" fill="#D60094"/>
<circle cx="612.59" cy="316.13" r="4.0" fill="#D60094"/>
<circle cx="617.88" cy="349.35" r="4.0" fill="#D60094"/>
<circle cx="623.16" cy="330.68" r="4.0" fill="#D60094"/>
<circle cx="628.44" cy="372.14" r="4.0" fill="#D60094"/>
<circle cx="633.73" cy="312.98" r="4.0" fill="#D60094"/>
<circle cx="639.01" cy="266.68" r="4.0" fill="#D60094"/>
<circle cx="644.3" cy="342.8" r="4.0" fill="#D60094"/>
<circle cx="649.58" cy="376.5" r="4.0" fill="#D60094"/>
<circle cx="654.86" cy="374.08" r="4.0" fill="#D60094"/>
<circle cx="660.15" cy="296.74" r="4.0" fill="#D60094"/>
<circle cx="665.43" cy="376.5" r="4.0" fill="#D60094"/>
<circle cx="670.72" cy="312.01" r="4.0" fill="#D60094"/>
<circle cx="676" cy="384.5" r="4.0" fill="#D60094"/>
<text x="400.4" y="414.3" font-size="12" text-anchor="end" font-weight="normal" fill="#111" >0</text>
<text x="400.4" y="390.06" font-size="12" text-anchor="end" font-weight="normal" fill="#111" >10</text>
<text x="400.4" y="365.81" font-size="12" text-anchor="end" font-weight="normal" fill="#111" >20</text>
<text x="400.4" y="341.57" font-size="12" text-anchor="end" font-weight="normal" fill="#111" >30</text>
<text x="400.4" y="317.33" font-size="12" text-anchor="end" font-weight="normal" fill="#111" >40</text>
<text x="400.4" y="293.09" font-size="12" text-anchor="end" font-weight="normal" fill="#111" >50</text>
<text x="400.4" y="268.84" font-size="12" text-anchor="end" font-weight="normal" fill="#111" >60</text>
<text x="400.4" y="244.6" font-size="12" text-anchor="end" font-weight="normal" fill="#111" >70</text>
<text x="411.8" y="427" font-size="12" text-anchor="middle" font-weight="normal" fill="#111" >200</text>
<text x="464.64" y="427" font-size="12" text-anchor="middle" font-weight="normal" fill="#111" >210</text>
<text x="517.48" y="427" font-size="12" text-anchor="middle" font-weight="normal" fill="#111" >220</text>
<text x="570.32" y="427" font-size="12" text-anchor="middle" font-weight="normal" fill="#111" >230</text>
<text x="623.16" y="427" font-size="12" text-anchor="middle" font-weight="normal" fill="#111" >240</text>
<text x="676" y="427" font-size="12" text-anchor="middle" font-weight="normal" fill="#111" >250</text>
<text transform="translate(374,322.2) rotate(-90)" font-size="14" text-anchor="middle" font-weight="bold" fill="#000">Fc (MPa)</text>
<text x="550.5" y="440" font-size="14" text-anchor="middle" font-weight="bold" fill="#000" >Row number</text>
<text x="525.3" y="459.5" font-size="14.5" text-anchor="middle" font-weight="normal" fill="#111" >(d)</text>
<line x1="430" y1="257" x2="458" y2="257" stroke="#FFFF00" stroke-width="2.6"/>
<circle cx="444" cy="257" r="3.9" fill="#FFFF00"/>
<text x="461" y="261.4" font-size="12.5" text-anchor="start" font-weight="bold" fill="#000" >Predicted</text>
<line x1="516.3" y1="257" x2="544" y2="257" stroke="#D60094" stroke-width="2.6"/>
<circle cx="529.9" cy="257" r="3.9" fill="#D60094"/>
<text x="547.5" y="261.4" font-size="12.5" text-anchor="start" font-weight="bold" fill="#000" >Experimental</text>
<rect x="42.8" y="472.8" width="271.4" height="169" fill="none" stroke="#000" stroke-width="1.8"/>
<polyline points="44.16,565.92 45.51,553.24 46.87,532.54 48.23,559.7 49.58,548.97 50.94,563.29 52.3,566.17 53.66,549.95 55.01,563.67 56.37,560.44 57.73,563.33 59.08,560.75 60.44,547.16 61.8,569.3 63.15,557.74 64.51,557.99 65.87,562.28 67.23,531.53 68.58,562.07 69.94,559.96 71.3,550 72.65,538.71 74.01,553.06 75.37,560.94 76.72,556.86 78.08,564.3 79.44,557.18 80.8,541.67 82.15,553.88 83.51,559.17 84.87,559.71 86.22,550.05 87.58,551.12 88.94,561.46 90.29,551.38 91.65,567.29 93.01,553.49 94.37,555.59 95.72,552.2 97.08,548.33 98.44,562.66 99.79,570.31 101.15,562.31 102.51,537.61 103.86,552.85 105.22,553.41 106.58,552.82 107.94,552.66 109.29,563.8 110.65,554.6 112.01,552.45 113.36,556.13 114.72,552.19 116.08,561.71 117.43,557.13 118.79,535.5 120.15,549.66 121.51,567.44 122.86,556.16 124.22,543.78 125.58,556.72 126.93,549.61 128.29,555.25 129.65,568.28 131,557.04 132.36,558.26 133.72,553.63 135.08,553.09 136.43,555.51 137.79,536.6 139.15,560.57 140.5,561.1 141.86,561.3 143.22,562.47 144.57,564.91 145.93,579.52 147.29,549.86 148.65,559.29 150,530.43 151.36,556.98 152.72,556.63 154.07,541.67 155.43,555.56 156.79,553.65 158.14,559.3 159.5,563.11 160.86,557.1 162.22,562.37 163.57,555.5 164.93,558.5 166.29,570.31 167.64,557.76 169,537.61 170.36,559.93 171.71,565.14 173.07,565.19 174.43,543.78 175.79,550.73 177.14,563.52 178.5,564.47 179.86,555.64 181.21,555.03 182.57,549.51 183.93,554.28 185.28,563.9 186.64,530.26 188,570.99 189.36,513.61 190.71,547.16 192.07,565.66 193.43,568.88 194.78,507.44 196.14,556.17 197.5,561.61 198.85,554.41 200.21,542.93 201.57,560.99 202.93,565.54 204.28,551.38 205.64,518.77 207,537.61 208.35,559.99 209.71,548.93 211.07,553.74 212.43,561.85 213.78,519.19 215.14,549.61 216.5,565.39 217.85,558.14 219.21,553.15 220.57,563.85 221.92,551.73 223.28,544.88 224.64,567.78 226,559.27 227.35,561.44 228.71,558 230.07,566.97 231.42,558.69 232.78,559.18 234.14,552.7 235.49,551.16 236.85,566.3 238.21,549.41 239.56,567.44 240.92,560.35 242.28,558.8 243.64,565.75 244.99,558.25 246.35,558.04 247.71,562.4 249.06,557.82 250.42,578.34 251.78,565.06 253.13,556.86 254.49,562.39 255.85,515.73 257.21,558.56 258.56,547.16 259.92,560.38 261.28,559.9 262.63,556.86 263.99,552.62 265.35,560.67 266.7,554.77 268.06,572 269.42,550.74 270.78,557.1 272.13,558.37 273.49,532.37 274.85,556.2 276.2,549.65 277.56,573.1 278.92,561.63 280.27,551.74 281.63,557.61 282.99,559.88 284.35,561.14 285.7,557.55 287.06,520.97 288.42,562.63 289.77,558.33 291.13,562.63 292.49,538.71 293.84,554.08 295.2,562.21 296.56,562.61 297.92,553.16 299.27,562.91 300.63,566.76 301.99,557.84 303.34,566.53 304.7,561.86 306.06,559.84 307.41,547.16 308.77,550.12 310.13,563.72 311.49,555.23 312.84,559.07 314.2,557.88" fill="none" stroke="#D60094" stroke-width="2.2" stroke-linejoin="round"/>
<circle cx="44.16" cy="565.92" r="3.6" fill="#D60094"/>
<circle cx="45.51" cy="553.24" r="3.6" fill="#D60094"/>
<circle cx="46.87" cy="532.54" r="3.6" fill="#D60094"/>
<circle cx="48.23" cy="559.7" r="3.6" fill="#D60094"/>
<circle cx="49.58" cy="548.97" r="3.6" fill="#D60094"/>
<circle cx="50.94" cy="563.29" r="3.6" fill="#D60094"/>
<circle cx="52.3" cy="566.17" r="3.6" fill="#D60094"/>
<circle cx="53.66" cy="549.95" r="3.6" fill="#D60094"/>
<circle cx="55.01" cy="563.67" r="3.6" fill="#D60094"/>
<circle cx="56.37" cy="560.44" r="3.6" fill="#D60094"/>
<circle cx="57.73" cy="563.33" r="3.6" fill="#D60094"/>
<circle cx="59.08" cy="560.75" r="3.6" fill="#D60094"/>
<circle cx="60.44" cy="547.16" r="3.6" fill="#D60094"/>
<circle cx="61.8" cy="569.3" r="3.6" fill="#D60094"/>
<circle cx="63.15" cy="557.74" r="3.6" fill="#D60094"/>
<circle cx="64.51" cy="557.99" r="3.6" fill="#D60094"/>
<circle cx="65.87" cy="562.28" r="3.6" fill="#D60094"/>
<circle cx="67.23" cy="531.53" r="3.6" fill="#D60094"/>
<circle cx="68.58" cy="562.07" r="3.6" fill="#D60094"/>
<circle cx="69.94" cy="559.96" r="3.6" fill="#D60094"/>
<circle cx="71.3" cy="550" r="3.6" fill="#D60094"/>
<circle cx="72.65" cy="538.71" r="3.6" fill="#D60094"/>
<circle cx="74.01" cy="553.06" r="3.6" fill="#D60094"/>
<circle cx="75.37" cy="560.94" r="3.6" fill="#D60094"/>
<circle cx="76.72" cy="556.86" r="3.6" fill="#D60094"/>
<circle cx="78.08" cy="564.3" r="3.6" fill="#D60094"/>
<circle cx="79.44" cy="557.18" r="3.6" fill="#D60094"/>
<circle cx="80.8" cy="541.67" r="3.6" fill="#D60094"/>
<circle cx="82.15" cy="553.88" r="3.6" fill="#D60094"/>
<circle cx="83.51" cy="559.17" r="3.6" fill="#D60094"/>
<circle cx="84.87" cy="559.71" r="3.6" fill="#D60094"/>
<circle cx="86.22" cy="550.05" r="3.6" fill="#D60094"/>
<circle cx="87.58" cy="551.12" r="3.6" fill="#D60094"/>
<circle cx="88.94" cy="561.46" r="3.6" fill="#D60094"/>
<circle cx="90.29" cy="551.38" r="3.6" fill="#D60094"/>
<circle cx="91.65" cy="567.29" r="3.6" fill="#D60094"/>
<circle cx="93.01" cy="553.49" r="3.6" fill="#D60094"/>
<circle cx="94.37" cy="555.59" r="3.6" fill="#D60094"/>
<circle cx="95.72" cy="552.2" r="3.6" fill="#D60094"/>
<circle cx="97.08" cy="548.33" r="3.6" fill="#D60094"/>
<circle cx="98.44" cy="562.66" r="3.6" fill="#D60094"/>
<circle cx="99.79" cy="570.31" r="3.6" fill="#D60094"/>
<circle cx="101.15" cy="562.31" r="3.6" fill="#D60094"/>
<circle cx="102.51" cy="537.61" r="3.6" fill="#D60094"/>
<circle cx="103.86" cy="552.85" r="3.6" fill="#D60094"/>
<circle cx="105.22" cy="553.41" r="3.6" fill="#D60094"/>
<circle cx="106.58" cy="552.82" r="3.6" fill="#D60094"/>
<circle cx="107.94" cy="552.66" r="3.6" fill="#D60094"/>
<circle cx="109.29" cy="563.8" r="3.6" fill="#D60094"/>
<circle cx="110.65" cy="554.6" r="3.6" fill="#D60094"/>
<circle cx="112.01" cy="552.45" r="3.6" fill="#D60094"/>
<circle cx="113.36" cy="556.13" r="3.6" fill="#D60094"/>
<circle cx="114.72" cy="552.19" r="3.6" fill="#D60094"/>
<circle cx="116.08" cy="561.71" r="3.6" fill="#D60094"/>
<circle cx="117.43" cy="557.13" r="3.6" fill="#D60094"/>
<circle cx="118.79" cy="535.5" r="3.6" fill="#D60094"/>
<circle cx="120.15" cy="549.66" r="3.6" fill="#D60094"/>
<circle cx="121.51" cy="567.44" r="3.6" fill="#D60094"/>
<circle cx="122.86" cy="556.16" r="3.6" fill="#D60094"/>
<circle cx="124.22" cy="543.78" r="3.6" fill="#D60094"/>
<circle cx="125.58" cy="556.72" r="3.6" fill="#D60094"/>
<circle cx="126.93" cy="549.61" r="3.6" fill="#D60094"/>
<circle cx="128.29" cy="555.25" r="3.6" fill="#D60094"/>
<circle cx="129.65" cy="568.28" r="3.6" fill="#D60094"/>
<circle cx="131" cy="557.04" r="3.6" fill="#D60094"/>
<circle cx="132.36" cy="558.26" r="3.6" fill="#D60094"/>
<circle cx="133.72" cy="553.63" r="3.6" fill="#D60094"/>
<circle cx="135.08" cy="553.09" r="3.6" fill="#D60094"/>
<circle cx="136.43" cy="555.51" r="3.6" fill="#D60094"/>
<circle cx="137.79" cy="536.6" r="3.6" fill="#D60094"/>
<circle cx="139.15" cy="560.57" r="3.6" fill="#D60094"/>
<circle cx="140.5" cy="561.1" r="3.6" fill="#D60094"/>
<circle cx="141.86" cy="561.3" r="3.6" fill="#D60094"/>
<circle cx="143.22" cy="562.47" r="3.6" fill="#D60094"/>
<circle cx="144.57" cy="564.91" r="3.6" fill="#D60094"/>
<circle cx="145.93" cy="579.52" r="3.6" fill="#D60094"/>
<circle cx="147.29" cy="549.86" r="3.6" fill="#D60094"/>
<circle cx="148.65" cy="559.29" r="3.6" fill="#D60094"/>
<circle cx="150" cy="530.43" r="3.6" fill="#D60094"/>
<circle cx="151.36" cy="556.98" r="3.6" fill="#D60094"/>
<circle cx="152.72" cy="556.63" r="3.6" fill="#D60094"/>
<circle cx="154.07" cy="541.67" r="3.6" fill="#D60094"/>
<circle cx="155.43" cy="555.56" r="3.6" fill="#D60094"/>
<circle cx="156.79" cy="553.65" r="3.6" fill="#D60094"/>
<circle cx="158.14" cy="559.3" r="3.6" fill="#D60094"/>
<circle cx="159.5" cy="563.11" r="3.6" fill="#D60094"/>
<circle cx="160.86" cy="557.1" r="3.6" fill="#D60094"/>
<circle cx="162.22" cy="562.37" r="3.6" fill="#D60094"/>
<circle cx="163.57" cy="555.5" r="3.6" fill="#D60094"/>
<circle cx="164.93" cy="558.5" r="3.6" fill="#D60094"/>
<circle cx="166.29" cy="570.31" r="3.6" fill="#D60094"/>
<circle cx="167.64" cy="557.76" r="3.6" fill="#D60094"/>
<circle cx="169" cy="537.61" r="3.6" fill="#D60094"/>
<circle cx="170.36" cy="559.93" r="3.6" fill="#D60094"/>
<circle cx="171.71" cy="565.14" r="3.6" fill="#D60094"/>
<circle cx="173.07" cy="565.19" r="3.6" fill="#D60094"/>
<circle cx="174.43" cy="543.78" r="3.6" fill="#D60094"/>
<circle cx="175.79" cy="550.73" r="3.6" fill="#D60094"/>
<circle cx="177.14" cy="563.52" r="3.6" fill="#D60094"/>
<circle cx="178.5" cy="564.47" r="3.6" fill="#D60094"/>
<circle cx="179.86" cy="555.64" r="3.6" fill="#D60094"/>
<circle cx="181.21" cy="555.03" r="3.6" fill="#D60094"/>
<circle cx="182.57" cy="549.51" r="3.6" fill="#D60094"/>
<circle cx="183.93" cy="554.28" r="3.6" fill="#D60094"/>
<circle cx="185.28" cy="563.9" r="3.6" fill="#D60094"/>
<circle cx="186.64" cy="530.26" r="3.6" fill="#D60094"/>
<circle cx="188" cy="570.99" r="3.6" fill="#D60094"/>
<circle cx="189.36" cy="513.61" r="3.6" fill="#D60094"/>
<circle cx="190.71" cy="547.16" r="3.6" fill="#D60094"/>
<circle cx="192.07" cy="565.66" r="3.6" fill="#D60094"/>
<circle cx="193.43" cy="568.88" r="3.6" fill="#D60094"/>
<circle cx="194.78" cy="507.44" r="3.6" fill="#D60094"/>
<circle cx="196.14" cy="556.17" r="3.6" fill="#D60094"/>
<circle cx="197.5" cy="561.61" r="3.6" fill="#D60094"/>
<circle cx="198.85" cy="554.41" r="3.6" fill="#D60094"/>
<circle cx="200.21" cy="542.93" r="3.6" fill="#D60094"/>
<circle cx="201.57" cy="560.99" r="3.6" fill="#D60094"/>
<circle cx="202.93" cy="565.54" r="3.6" fill="#D60094"/>
<circle cx="204.28" cy="551.38" r="3.6" fill="#D60094"/>
<circle cx="205.64" cy="518.77" r="3.6" fill="#D60094"/>
<circle cx="207" cy="537.61" r="3.6" fill="#D60094"/>
<circle cx="208.35" cy="559.99" r="3.6" fill="#D60094"/>
<circle cx="209.71" cy="548.93" r="3.6" fill="#D60094"/>
<circle cx="211.07" cy="553.74" r="3.6" fill="#D60094"/>
<circle cx="212.43" cy="561.85" r="3.6" fill="#D60094"/>
<circle cx="213.78" cy="519.19" r="3.6" fill="#D60094"/>
<circle cx="215.14" cy="549.61" r="3.6" fill="#D60094"/>
<circle cx="216.5" cy="565.39" r="3.6" fill="#D60094"/>
<circle cx="217.85" cy="558.14" r="3.6" fill="#D60094"/>
<circle cx="219.21" cy="553.15" r="3.6" fill="#D60094"/>
<circle cx="220.57" cy="563.85" r="3.6" fill="#D60094"/>
<circle cx="221.92" cy="551.73" r="3.6" fill="#D60094"/>
<circle cx="223.28" cy="544.88" r="3.6" fill="#D60094"/>
<circle cx="224.64" cy="567.78" r="3.6" fill="#D60094"/>
<circle cx="226" cy="559.27" r="3.6" fill="#D60094"/>
<circle cx="227.35" cy="561.44" r="3.6" fill="#D60094"/>
<circle cx="228.71" cy="558" r="3.6" fill="#D60094"/>
<circle cx="230.07" cy="566.97" r="3.6" fill="#D60094"/>
<circle cx="231.42" cy="558.69" r="3.6" fill="#D60094"/>
<circle cx="232.78" cy="559.18" r="3.6" fill="#D60094"/>
<circle cx="234.14" cy="552.7" r="3.6" fill="#D60094"/>
<circle cx="235.49" cy="551.16" r="3.6" fill="#D60094"/>
<circle cx="236.85" cy="566.3" r="3.6" fill="#D60094"/>
<circle cx="238.21" cy="549.41" r="3.6" fill="#D60094"/>
<circle cx="239.56" cy="567.44" r="3.6" fill="#D60094"/>
<circle cx="240.92" cy="560.35" r="3.6" fill="#D60094"/>
<circle cx="242.28" cy="558.8" r="3.6" fill="#D60094"/>
<circle cx="243.64" cy="565.75" r="3.6" fill="#D60094"/>
<circle cx="244.99" cy="558.25" r="3.6" fill="#D60094"/>
<circle cx="246.35" cy="558.04" r="3.6" fill="#D60094"/>
<circle cx="247.71" cy="562.4" r="3.6" fill="#D60094"/>
<circle cx="249.06" cy="557.82" r="3.6" fill="#D60094"/>
<circle cx="250.42" cy="578.34" r="3.6" fill="#D60094"/>
<circle cx="251.78" cy="565.06" r="3.6" fill="#D60094"/>
<circle cx="253.13" cy="556.86" r="3.6" fill="#D60094"/>
<circle cx="254.49" cy="562.39" r="3.6" fill="#D60094"/>
<circle cx="255.85" cy="515.73" r="3.6" fill="#D60094"/>
<circle cx="257.21" cy="558.56" r="3.6" fill="#D60094"/>
<circle cx="258.56" cy="547.16" r="3.6" fill="#D60094"/>
<circle cx="259.92" cy="560.38" r="3.6" fill="#D60094"/>
<circle cx="261.28" cy="559.9" r="3.6" fill="#D60094"/>
<circle cx="262.63" cy="556.86" r="3.6" fill="#D60094"/>
<circle cx="263.99" cy="552.62" r="3.6" fill="#D60094"/>
<circle cx="265.35" cy="560.67" r="3.6" fill="#D60094"/>
<circle cx="266.7" cy="554.77" r="3.6" fill="#D60094"/>
<circle cx="268.06" cy="572" r="3.6" fill="#D60094"/>
<circle cx="269.42" cy="550.74" r="3.6" fill="#D60094"/>
<circle cx="270.78" cy="557.1" r="3.6" fill="#D60094"/>
<circle cx="272.13" cy="558.37" r="3.6" fill="#D60094"/>
<circle cx="273.49" cy="532.37" r="3.6" fill="#D60094"/>
<circle cx="274.85" cy="556.2" r="3.6" fill="#D60094"/>
<circle cx="276.2" cy="549.65" r="3.6" fill="#D60094"/>
<circle cx="277.56" cy="573.1" r="3.6" fill="#D60094"/>
<circle cx="278.92" cy="561.63" r="3.6" fill="#D60094"/>
<circle cx="280.27" cy="551.74" r="3.6" fill="#D60094"/>
<circle cx="281.63" cy="557.61" r="3.6" fill="#D60094"/>
<circle cx="282.99" cy="559.88" r="3.6" fill="#D60094"/>
<circle cx="284.35" cy="561.14" r="3.6" fill="#D60094"/>
<circle cx="285.7" cy="557.55" r="3.6" fill="#D60094"/>
<circle cx="287.06" cy="520.97" r="3.6" fill="#D60094"/>
<circle cx="288.42" cy="562.63" r="3.6" fill="#D60094"/>
<circle cx="289.77" cy="558.33" r="3.6" fill="#D60094"/>
<circle cx="291.13" cy="562.63" r="3.6" fill="#D60094"/>
<circle cx="292.49" cy="538.71" r="3.6" fill="#D60094"/>
<circle cx="293.84" cy="554.08" r="3.6" fill="#D60094"/>
<circle cx="295.2" cy="562.21" r="3.6" fill="#D60094"/>
<circle cx="296.56" cy="562.61" r="3.6" fill="#D60094"/>
<circle cx="297.92" cy="553.16" r="3.6" fill="#D60094"/>
<circle cx="299.27" cy="562.91" r="3.6" fill="#D60094"/>
<circle cx="300.63" cy="566.76" r="3.6" fill="#D60094"/>
<circle cx="301.99" cy="557.84" r="3.6" fill="#D60094"/>
<circle cx="303.34" cy="566.53" r="3.6" fill="#D60094"/>
<circle cx="304.7" cy="561.86" r="3.6" fill="#D60094"/>
<circle cx="306.06" cy="559.84" r="3.6" fill="#D60094"/>
<circle cx="307.41" cy="547.16" r="3.6" fill="#D60094"/>
<circle cx="308.77" cy="550.12" r="3.6" fill="#D60094"/>
<circle cx="310.13" cy="563.72" r="3.6" fill="#D60094"/>
<circle cx="311.49" cy="555.23" r="3.6" fill="#D60094"/>
<circle cx="312.84" cy="559.07" r="3.6" fill="#D60094"/>
<circle cx="314.2" cy="557.88" r="3.6" fill="#D60094"/>
<line x1="44.16" y1="557.3" x2="314.2" y2="557.3" stroke="#FFFF00" stroke-width="8" stroke-linecap="round"/>
<text x="32.3" y="647.6" font-size="12" text-anchor="end" font-weight="normal" fill="#111" >0</text>
<text x="32.3" y="563.1" font-size="12" text-anchor="end" font-weight="normal" fill="#111" >1</text>
<text x="32.3" y="478.6" font-size="12" text-anchor="end" font-weight="normal" fill="#111" >2</text>
<text x="42.8" y="661" font-size="12" text-anchor="middle" font-weight="normal" fill="#111" >0</text>
<text x="110.65" y="661" font-size="12" text-anchor="middle" font-weight="normal" fill="#111" >50</text>
<text x="178.5" y="661" font-size="12" text-anchor="middle" font-weight="normal" fill="#111" >100</text>
<text x="246.35" y="661" font-size="12" text-anchor="middle" font-weight="normal" fill="#111" >150</text>
<text x="314.2" y="661" font-size="12" text-anchor="middle" font-weight="normal" fill="#111" >200</text>
<text transform="translate(12,574.8) rotate(-90)" font-size="14" text-anchor="middle" font-weight="bold" fill="#000">Fc (MPa)</text>
<text x="187.3" y="674" font-size="14" text-anchor="middle" font-weight="bold" fill="#000" >Row number</text>
<text x="162.8" y="694" font-size="14.5" text-anchor="middle" font-weight="normal" fill="#111" >(e)</text>
<line x1="155.8" y1="487.2" x2="183.9" y2="487.2" stroke="#D60094" stroke-width="2.6"/>
<circle cx="169.7" cy="487.2" r="3.8" fill="#D60094"/>
<text x="186.8" y="491.6" font-size="12.5" text-anchor="start" font-weight="bold" fill="#000" >Ratio</text>
<line x1="227.4" y1="487.2" x2="255" y2="487.2" stroke="#FFFF00" stroke-width="2.6"/>
<circle cx="241.7" cy="487.2" r="3.8" fill="#FFFF00"/>
<text x="258.2" y="491.6" font-size="12.5" text-anchor="start" font-weight="bold" fill="#000" >Normal</text>
<rect x="398.2" y="474.2" width="278" height="167.6" fill="none" stroke="#000" stroke-width="1.8"/>
<polyline points="403.76,557.16 409.32,555.49 414.88,558 420.44,549.62 426,558 431.56,560.51 437.12,553.39 442.68,558 448.24,559.68 453.8,560.51 459.36,551.63 464.92,559.68 470.48,563.87 476.04,560.51 481.6,566.38 487.16,551.3 492.72,573.92 498.28,564.7 503.84,558 509.4,559.68 514.96,561.35 520.52,563.45 526.08,558 531.64,549.62 537.2,558 542.76,563.03 548.32,547.52 553.88,555.49 559.44,561.77 565,541.41 570.56,558 576.12,552.97 581.68,558.84 587.24,567.64 592.8,558.84 598.36,562.78 603.92,547.52 609.48,559.68 615.04,558 620.6,566.8 626.16,569.4 631.72,558.84 637.28,561.77 642.84,552.3 648.4,556.32 653.96,541.41 659.52,560.68 665.08,541.41 670.64,558.84 676.2,576.6" fill="none" stroke="#D60094" stroke-width="2.2" stroke-linejoin="round"/>
<circle cx="403.76" cy="557.16" r="3.6" fill="#D60094"/>
<circle cx="409.32" cy="555.49" r="3.6" fill="#D60094"/>
<circle cx="414.88" cy="558" r="3.6" fill="#D60094"/>
<circle cx="420.44" cy="549.62" r="3.6" fill="#D60094"/>
<circle cx="426" cy="558" r="3.6" fill="#D60094"/>
<circle cx="431.56" cy="560.51" r="3.6" fill="#D60094"/>
<circle cx="437.12" cy="553.39" r="3.6" fill="#D60094"/>
<circle cx="442.68" cy="558" r="3.6" fill="#D60094"/>
<circle cx="448.24" cy="559.68" r="3.6" fill="#D60094"/>
<circle cx="453.8" cy="560.51" r="3.6" fill="#D60094"/>
<circle cx="459.36" cy="551.63" r="3.6" fill="#D60094"/>
<circle cx="464.92" cy="559.68" r="3.6" fill="#D60094"/>
<circle cx="470.48" cy="563.87" r="3.6" fill="#D60094"/>
<circle cx="476.04" cy="560.51" r="3.6" fill="#D60094"/>
<circle cx="481.6" cy="566.38" r="3.6" fill="#D60094"/>
<circle cx="487.16" cy="551.3" r="3.6" fill="#D60094"/>
<circle cx="492.72" cy="573.92" r="3.6" fill="#D60094"/>
<circle cx="498.28" cy="564.7" r="3.6" fill="#D60094"/>
<circle cx="503.84" cy="558" r="3.6" fill="#D60094"/>
<circle cx="509.4" cy="559.68" r="3.6" fill="#D60094"/>
<circle cx="514.96" cy="561.35" r="3.6" fill="#D60094"/>
<circle cx="520.52" cy="563.45" r="3.6" fill="#D60094"/>
<circle cx="526.08" cy="558" r="3.6" fill="#D60094"/>
<circle cx="531.64" cy="549.62" r="3.6" fill="#D60094"/>
<circle cx="537.2" cy="558" r="3.6" fill="#D60094"/>
<circle cx="542.76" cy="563.03" r="3.6" fill="#D60094"/>
<circle cx="548.32" cy="547.52" r="3.6" fill="#D60094"/>
<circle cx="553.88" cy="555.49" r="3.6" fill="#D60094"/>
<circle cx="559.44" cy="561.77" r="3.6" fill="#D60094"/>
<circle cx="565" cy="541.41" r="3.6" fill="#D60094"/>
<circle cx="570.56" cy="558" r="3.6" fill="#D60094"/>
<circle cx="576.12" cy="552.97" r="3.6" fill="#D60094"/>
<circle cx="581.68" cy="558.84" r="3.6" fill="#D60094"/>
<circle cx="587.24" cy="567.64" r="3.6" fill="#D60094"/>
<circle cx="592.8" cy="558.84" r="3.6" fill="#D60094"/>
<circle cx="598.36" cy="562.78" r="3.6" fill="#D60094"/>
<circle cx="603.92" cy="547.52" r="3.6" fill="#D60094"/>
<circle cx="609.48" cy="559.68" r="3.6" fill="#D60094"/>
<circle cx="615.04" cy="558" r="3.6" fill="#D60094"/>
<circle cx="620.6" cy="566.8" r="3.6" fill="#D60094"/>
<circle cx="626.16" cy="569.4" r="3.6" fill="#D60094"/>
<circle cx="631.72" cy="558.84" r="3.6" fill="#D60094"/>
<circle cx="637.28" cy="561.77" r="3.6" fill="#D60094"/>
<circle cx="642.84" cy="552.3" r="3.6" fill="#D60094"/>
<circle cx="648.4" cy="556.32" r="3.6" fill="#D60094"/>
<circle cx="653.96" cy="541.41" r="3.6" fill="#D60094"/>
<circle cx="659.52" cy="560.68" r="3.6" fill="#D60094"/>
<circle cx="665.08" cy="541.41" r="3.6" fill="#D60094"/>
<circle cx="670.64" cy="558.84" r="3.6" fill="#D60094"/>
<circle cx="676.2" cy="576.6" r="3.6" fill="#D60094"/>
<line x1="403.76" y1="558" x2="676.2" y2="558" stroke="#FFFF00" stroke-width="2.4"/>
<circle cx="403.76" cy="558" r="3.7" fill="#FFFF00"/>
<circle cx="409.32" cy="558" r="3.7" fill="#FFFF00"/>
<circle cx="414.88" cy="558" r="3.7" fill="#FFFF00"/>
<circle cx="420.44" cy="558" r="3.7" fill="#FFFF00"/>
<circle cx="426" cy="558" r="3.7" fill="#FFFF00"/>
<circle cx="431.56" cy="558" r="3.7" fill="#FFFF00"/>
<circle cx="437.12" cy="558" r="3.7" fill="#FFFF00"/>
<circle cx="442.68" cy="558" r="3.7" fill="#FFFF00"/>
<circle cx="448.24" cy="558" r="3.7" fill="#FFFF00"/>
<circle cx="453.8" cy="558" r="3.7" fill="#FFFF00"/>
<circle cx="459.36" cy="558" r="3.7" fill="#FFFF00"/>
<circle cx="464.92" cy="558" r="3.7" fill="#FFFF00"/>
<circle cx="470.48" cy="558" r="3.7" fill="#FFFF00"/>
<circle cx="476.04" cy="558" r="3.7" fill="#FFFF00"/>
<circle cx="481.6" cy="558" r="3.7" fill="#FFFF00"/>
<circle cx="487.16" cy="558" r="3.7" fill="#FFFF00"/>
<circle cx="492.72" cy="558" r="3.7" fill="#FFFF00"/>
<circle cx="498.28" cy="558" r="3.7" fill="#FFFF00"/>
<circle cx="503.84" cy="558" r="3.7" fill="#FFFF00"/>
<circle cx="509.4" cy="558" r="3.7" fill="#FFFF00"/>
<circle cx="514.96" cy="558" r="3.7" fill="#FFFF00"/>
<circle cx="520.52" cy="558" r="3.7" fill="#FFFF00"/>
<circle cx="526.08" cy="558" r="3.7" fill="#FFFF00"/>
<circle cx="531.64" cy="558" r="3.7" fill="#FFFF00"/>
<circle cx="537.2" cy="558" r="3.7" fill="#FFFF00"/>
<circle cx="542.76" cy="558" r="3.7" fill="#FFFF00"/>
<circle cx="548.32" cy="558" r="3.7" fill="#FFFF00"/>
<circle cx="553.88" cy="558" r="3.7" fill="#FFFF00"/>
<circle cx="559.44" cy="558" r="3.7" fill="#FFFF00"/>
<circle cx="565" cy="558" r="3.7" fill="#FFFF00"/>
<circle cx="570.56" cy="558" r="3.7" fill="#FFFF00"/>
<circle cx="576.12" cy="558" r="3.7" fill="#FFFF00"/>
<circle cx="581.68" cy="558" r="3.7" fill="#FFFF00"/>
<circle cx="587.24" cy="558" r="3.7" fill="#FFFF00"/>
<circle cx="592.8" cy="558" r="3.7" fill="#FFFF00"/>
<circle cx="598.36" cy="558" r="3.7" fill="#FFFF00"/>
<circle cx="603.92" cy="558" r="3.7" fill="#FFFF00"/>
<circle cx="609.48" cy="558" r="3.7" fill="#FFFF00"/>
<circle cx="615.04" cy="558" r="3.7" fill="#FFFF00"/>
<circle cx="620.6" cy="558" r="3.7" fill="#FFFF00"/>
<circle cx="626.16" cy="558" r="3.7" fill="#FFFF00"/>
<circle cx="631.72" cy="558" r="3.7" fill="#FFFF00"/>
<circle cx="637.28" cy="558" r="3.7" fill="#FFFF00"/>
<circle cx="642.84" cy="558" r="3.7" fill="#FFFF00"/>
<circle cx="648.4" cy="558" r="3.7" fill="#FFFF00"/>
<circle cx="653.96" cy="558" r="3.7" fill="#FFFF00"/>
<circle cx="659.52" cy="558" r="3.7" fill="#FFFF00"/>
<circle cx="665.08" cy="558" r="3.7" fill="#FFFF00"/>
<circle cx="670.64" cy="558" r="3.7" fill="#FFFF00"/>
<circle cx="676.2" cy="558" r="3.7" fill="#FFFF00"/>
<text x="386.8" y="647.6" font-size="12" text-anchor="end" font-weight="normal" fill="#111" >0</text>
<text x="386.8" y="563.8" font-size="12" text-anchor="end" font-weight="normal" fill="#111" >1</text>
<text x="386.8" y="480" font-size="12" text-anchor="end" font-weight="normal" fill="#111" >2</text>
<text x="398.2" y="660.5" font-size="12" text-anchor="middle" font-weight="normal" fill="#111" >200</text>
<text x="453.8" y="660.5" font-size="12" text-anchor="middle" font-weight="normal" fill="#111" >210</text>
<text x="509.4" y="660.5" font-size="12" text-anchor="middle" font-weight="normal" fill="#111" >220</text>
<text x="565" y="660.5" font-size="12" text-anchor="middle" font-weight="normal" fill="#111" >230</text>
<text x="620.6" y="660.5" font-size="12" text-anchor="middle" font-weight="normal" fill="#111" >240</text>
<text x="676.2" y="660.5" font-size="12" text-anchor="middle" font-weight="normal" fill="#111" >250</text>
<text transform="translate(374,574.8) rotate(-90)" font-size="14" text-anchor="middle" font-weight="bold" fill="#000">Fc (MPa)</text>
<text x="549.5" y="674" font-size="14" text-anchor="middle" font-weight="bold" fill="#000" >Row number</text>
<text x="525.3" y="694.5" font-size="14.5" text-anchor="middle" font-weight="normal" fill="#111" >(f)</text>
<line x1="501.2" y1="488.7" x2="529" y2="488.7" stroke="#D60094" stroke-width="2.6"/>
<circle cx="515.4" cy="488.7" r="3.6" fill="#D60094"/>
<text x="532.2" y="493.1" font-size="12.5" text-anchor="start" font-weight="bold" fill="#000" >Ratio</text>
<line x1="580.6" y1="488.7" x2="607.9" y2="488.7" stroke="#FFFF00" stroke-width="2.6"/>
<circle cx="594.3" cy="488.7" r="3.6" fill="#FFFF00"/>
<text x="611.7" y="493.1" font-size="12.5" text-anchor="start" font-weight="bold" fill="#000" >Normal</text>
<rect x="41.6" y="707.4" width="265.5" height="181.2" fill="none" stroke="#000" stroke-width="1.8"/>
<circle cx="46.38" cy="764.86" r="3.7" fill="#CC0066"/>
<circle cx="47.57" cy="777.84" r="3.7" fill="#CC0066"/>
<circle cx="51.82" cy="775.88" r="3.7" fill="#CC0066"/>
<circle cx="59.79" cy="786.75" r="3.7" fill="#CC0066"/>
<circle cx="61.91" cy="773.84" r="3.7" fill="#CC0066"/>
<circle cx="61.91" cy="778.82" r="3.7" fill="#CC0066"/>
<circle cx="64.7" cy="749.98" r="3.7" fill="#CC0066"/>
<circle cx="67.75" cy="779.88" r="3.7" fill="#CC0066"/>
<circle cx="69.74" cy="758.97" r="3.7" fill="#CC0066"/>
<circle cx="73.73" cy="780.71" r="3.7" fill="#CC0066"/>
<circle cx="72.8" cy="786.75" r="3.7" fill="#CC0066"/>
<circle cx="67.75" cy="792.72" r="3.7" fill="#CC0066"/>
<circle cx="80.63" cy="778.82" r="3.7" fill="#CC0066"/>
<circle cx="83.68" cy="756.02" r="3.7" fill="#CC0066"/>
<circle cx="86.6" cy="745.15" r="3.7" fill="#CC0066"/>
<circle cx="90.58" cy="749" r="3.7" fill="#CC0066"/>
<circle cx="96.56" cy="764.86" r="3.7" fill="#CC0066"/>
<circle cx="100.54" cy="770.82" r="3.7" fill="#CC0066"/>
<circle cx="106.51" cy="753" r="3.7" fill="#CC0066"/>
<circle cx="41.6" cy="798" r="3.7" fill="#CC0066"/>
<circle cx="45.05" cy="814.46" r="3.7" fill="#CC0066"/>
<circle cx="50.89" cy="811.51" r="3.7" fill="#CC0066"/>
<circle cx="55.94" cy="814.46" r="3.7" fill="#CC0066"/>
<circle cx="43.99" cy="826.84" r="3.7" fill="#CC0066"/>
<circle cx="52.88" cy="832.35" r="3.7" fill="#CC0066"/>
<circle cx="57.93" cy="832.35" r="3.7" fill="#CC0066"/>
<circle cx="48.9" cy="870.03" r="3.7" fill="#CC0066"/>
<circle cx="54.88" cy="871.01" r="3.7" fill="#CC0066"/>
<circle cx="76.78" cy="804.57" r="3.7" fill="#CC0066"/>
<circle cx="76.78" cy="809.55" r="3.7" fill="#CC0066"/>
<circle cx="78.77" cy="820.42" r="3.7" fill="#CC0066"/>
<circle cx="88.59" cy="810.53" r="3.7" fill="#CC0066"/>
<circle cx="92.58" cy="815.44" r="3.7" fill="#CC0066"/>
<circle cx="95.63" cy="824.42" r="3.7" fill="#CC0066"/>
<circle cx="94.57" cy="835.3" r="3.7" fill="#CC0066"/>
<circle cx="99.48" cy="839.9" r="3.7" fill="#CC0066"/>
<circle cx="97.49" cy="803.59" r="3.7" fill="#CC0066"/>
<circle cx="103.46" cy="820.42" r="3.7" fill="#CC0066"/>
<circle cx="105.45" cy="828.43" r="3.7" fill="#CC0066"/>
<circle cx="81.69" cy="800.57" r="3.7" fill="#CC0066"/>
<circle cx="110.9" cy="781.77" r="3.7" fill="#CC0066"/>
<circle cx="115.81" cy="782.75" r="3.7" fill="#CC0066"/>
<circle cx="119.79" cy="772.86" r="3.7" fill="#CC0066"/>
<circle cx="126.16" cy="789.69" r="3.7" fill="#CC0066"/>
<circle cx="128.68" cy="777.84" r="3.7" fill="#CC0066"/>
<circle cx="131.6" cy="771.88" r="3.7" fill="#CC0066"/>
<circle cx="136.65" cy="757.99" r="3.7" fill="#CC0066"/>
<circle cx="139.57" cy="785.69" r="3.7" fill="#CC0066"/>
<circle cx="142.62" cy="776.86" r="3.7" fill="#CC0066"/>
<circle cx="145.54" cy="780.71" r="3.7" fill="#CC0066"/>
<circle cx="144.61" cy="745.15" r="3.7" fill="#CC0066"/>
<circle cx="143.55" cy="759.95" r="3.7" fill="#CC0066"/>
<circle cx="147.53" cy="754.97" r="3.7" fill="#CC0066"/>
<circle cx="151.52" cy="756.02" r="3.7" fill="#CC0066"/>
<circle cx="160.41" cy="761.99" r="3.7" fill="#CC0066"/>
<circle cx="164.39" cy="767.88" r="3.7" fill="#CC0066"/>
<circle cx="163.33" cy="753.98" r="3.7" fill="#CC0066"/>
<circle cx="169.31" cy="754.97" r="3.7" fill="#CC0066"/>
<circle cx="108.9" cy="802.61" r="3.7" fill="#CC0066"/>
<circle cx="114.75" cy="802.61" r="3.7" fill="#CC0066"/>
<circle cx="120.72" cy="809.55" r="3.7" fill="#CC0066"/>
<circle cx="124.7" cy="813.48" r="3.7" fill="#CC0066"/>
<circle cx="105.85" cy="819.44" r="3.7" fill="#CC0066"/>
<circle cx="106.91" cy="828.43" r="3.7" fill="#CC0066"/>
<circle cx="117.8" cy="830.31" r="3.7" fill="#CC0066"/>
<circle cx="129.61" cy="830.31" r="3.7" fill="#CC0066"/>
<circle cx="122.71" cy="843.3" r="3.7" fill="#CC0066"/>
<circle cx="133.6" cy="848.21" r="3.7" fill="#CC0066"/>
<circle cx="137.98" cy="838.32" r="3.7" fill="#CC0066"/>
<circle cx="140.63" cy="845.26" r="3.7" fill="#CC0066"/>
<circle cx="112.75" cy="859.15" r="3.7" fill="#CC0066"/>
<circle cx="111.43" cy="872.44" r="3.7" fill="#CC0066"/>
<circle cx="135.59" cy="802.61" r="3.7" fill="#CC0066"/>
<circle cx="149.53" cy="817.48" r="3.7" fill="#CC0066"/>
<circle cx="154.44" cy="816.5" r="3.7" fill="#CC0066"/>
<circle cx="159.48" cy="815.44" r="3.7" fill="#CC0066"/>
<circle cx="152.45" cy="831.3" r="3.7" fill="#CC0066"/>
<circle cx="156.43" cy="828.43" r="3.7" fill="#CC0066"/>
<circle cx="157.49" cy="801.62" r="3.7" fill="#CC0066"/>
<circle cx="167.31" cy="817.48" r="3.7" fill="#CC0066"/>
<circle cx="169.31" cy="838.32" r="3.7" fill="#CC0066"/>
<circle cx="172.09" cy="846.32" r="3.7" fill="#CC0066"/>
<circle cx="172.76" cy="754.97" r="3.7" fill="#CC0066"/>
<circle cx="177.8" cy="765.84" r="3.7" fill="#CC0066"/>
<circle cx="175.68" cy="780.71" r="3.7" fill="#CC0066"/>
<circle cx="180.59" cy="781.77" r="3.7" fill="#CC0066"/>
<circle cx="189.62" cy="785.69" r="3.7" fill="#CC0066"/>
<circle cx="192.67" cy="779.88" r="3.7" fill="#CC0066"/>
<circle cx="190.68" cy="791.73" r="3.7" fill="#CC0066"/>
<circle cx="196.52" cy="761.99" r="3.7" fill="#CC0066"/>
<circle cx="197.45" cy="753.98" r="3.7" fill="#CC0066"/>
<circle cx="201.96" cy="753" r="3.7" fill="#CC0066"/>
<circle cx="199.57" cy="782.75" r="3.7" fill="#CC0066"/>
<circle cx="205.55" cy="779.88" r="3.7" fill="#CC0066"/>
<circle cx="207.54" cy="774.9" r="3.7" fill="#CC0066"/>
<circle cx="209.53" cy="790.75" r="3.7" fill="#CC0066"/>
<circle cx="213.78" cy="749.98" r="3.7" fill="#CC0066"/>
<circle cx="217.36" cy="736.17" r="3.7" fill="#CC0066"/>
<circle cx="211.39" cy="764.86" r="3.7" fill="#CC0066"/>
<circle cx="215.37" cy="762.97" r="3.7" fill="#CC0066"/>
<circle cx="222.41" cy="764.86" r="3.7" fill="#CC0066"/>
<circle cx="226.39" cy="767.88" r="3.7" fill="#CC0066"/>
<circle cx="224.4" cy="771.88" r="3.7" fill="#CC0066"/>
<circle cx="230.24" cy="775.88" r="3.7" fill="#CC0066"/>
<circle cx="225.33" cy="779.88" r="3.7" fill="#CC0066"/>
<circle cx="222.41" cy="784.71" r="3.7" fill="#CC0066"/>
<circle cx="235.28" cy="764.86" r="3.7" fill="#CC0066"/>
<circle cx="170.77" cy="793.7" r="3.7" fill="#CC0066"/>
<circle cx="175.68" cy="805.55" r="3.7" fill="#CC0066"/>
<circle cx="194.66" cy="803.59" r="3.7" fill="#CC0066"/>
<circle cx="202.49" cy="803.59" r="3.7" fill="#CC0066"/>
<circle cx="220.41" cy="805.55" r="3.7" fill="#CC0066"/>
<circle cx="188.69" cy="818.46" r="3.7" fill="#CC0066"/>
<circle cx="185.63" cy="823.44" r="3.7" fill="#CC0066"/>
<circle cx="187.62" cy="831.3" r="3.7" fill="#CC0066"/>
<circle cx="183.64" cy="841.34" r="3.7" fill="#CC0066"/>
<circle cx="200.5" cy="841.34" r="3.7" fill="#CC0066"/>
<circle cx="204.48" cy="850.55" r="3.7" fill="#CC0066"/>
<circle cx="208.47" cy="833.94" r="3.7" fill="#CC0066"/>
<circle cx="212.32" cy="816.88" r="3.7" fill="#CC0066"/>
<circle cx="218.95" cy="821.4" r="3.7" fill="#CC0066"/>
<circle cx="228.25" cy="811.51" r="3.7" fill="#CC0066"/>
<circle cx="232.23" cy="830.77" r="3.7" fill="#CC0066"/>
<circle cx="237.27" cy="837.34" r="3.7" fill="#CC0066"/>
<circle cx="238.2" cy="851.15" r="3.7" fill="#CC0066"/>
<circle cx="249.49" cy="744.09" r="3.7" fill="#CC0066"/>
<circle cx="247.89" cy="747.11" r="3.7" fill="#CC0066"/>
<circle cx="245.64" cy="753.38" r="3.7" fill="#CC0066"/>
<circle cx="252.54" cy="766.97" r="3.7" fill="#CC0066"/>
<circle cx="258.51" cy="771.88" r="3.7" fill="#CC0066"/>
<circle cx="260.5" cy="769.99" r="3.7" fill="#CC0066"/>
<circle cx="240.59" cy="780.86" r="3.7" fill="#CC0066"/>
<circle cx="244.57" cy="777.24" r="3.7" fill="#CC0066"/>
<circle cx="247.5" cy="789.69" r="3.7" fill="#CC0066"/>
<circle cx="262.5" cy="792.72" r="3.7" fill="#CC0066"/>
<circle cx="265.42" cy="790.75" r="3.7" fill="#CC0066"/>
<circle cx="267.01" cy="753" r="3.7" fill="#CC0066"/>
<circle cx="273.38" cy="742.13" r="3.7" fill="#CC0066"/>
<circle cx="280.28" cy="756.63" r="3.7" fill="#CC0066"/>
<circle cx="285.2" cy="747.49" r="3.7" fill="#CC0066"/>
<circle cx="277.36" cy="777.24" r="3.7" fill="#CC0066"/>
<circle cx="282.81" cy="773.24" r="3.7" fill="#CC0066"/>
<circle cx="288.25" cy="774.44" r="3.7" fill="#CC0066"/>
<circle cx="292.23" cy="764.55" r="3.7" fill="#CC0066"/>
<circle cx="297.67" cy="769.99" r="3.7" fill="#CC0066"/>
<circle cx="296.21" cy="779.28" r="3.7" fill="#CC0066"/>
<circle cx="303.12" cy="778.45" r="3.7" fill="#CC0066"/>
<circle cx="302.06" cy="782.45" r="3.7" fill="#CC0066"/>
<circle cx="281.35" cy="792.72" r="3.7" fill="#CC0066"/>
<circle cx="301.13" cy="793.7" r="3.7" fill="#CC0066"/>
<circle cx="258.51" cy="806.68" r="3.7" fill="#CC0066"/>
<circle cx="264.35" cy="808.57" r="3.7" fill="#CC0066"/>
<circle cx="268.34" cy="814.16" r="3.7" fill="#CC0066"/>
<circle cx="271.39" cy="808.19" r="3.7" fill="#CC0066"/>
<circle cx="276.3" cy="808.95" r="3.7" fill="#CC0066"/>
<circle cx="293.16" cy="803.66" r="3.7" fill="#CC0066"/>
<circle cx="298.87" cy="808.95" r="3.7" fill="#CC0066"/>
<circle cx="255.46" cy="814.53" r="3.7" fill="#CC0066"/>
<circle cx="242.58" cy="818.54" r="3.7" fill="#CC0066"/>
<circle cx="249.49" cy="820.95" r="3.7" fill="#CC0066"/>
<circle cx="253.47" cy="824.5" r="3.7" fill="#CC0066"/>
<circle cx="290.77" cy="815.59" r="3.7" fill="#CC0066"/>
<circle cx="261.43" cy="836.43" r="3.7" fill="#CC0066"/>
<circle cx="272.32" cy="836.81" r="3.7" fill="#CC0066"/>
<circle cx="274.97" cy="830.84" r="3.7" fill="#CC0066"/>
<circle cx="286.79" cy="833.41" r="3.7" fill="#CC0066"/>
<circle cx="278.29" cy="845.87" r="3.7" fill="#CC0066"/>
<circle cx="284.27" cy="842.77" r="3.7" fill="#CC0066"/>
<circle cx="300.2" cy="834.84" r="3.7" fill="#CC0066"/>
<circle cx="305.11" cy="840.43" r="3.7" fill="#CC0066"/>
<circle cx="306.04" cy="830.84" r="3.7" fill="#CC0066"/>
<circle cx="241.65" cy="851.3" r="3.7" fill="#CC0066"/>
<circle cx="256.52" cy="850.25" r="3.7" fill="#CC0066"/>
<line x1="43.19" y1="798" x2="307.1" y2="798" stroke="#000" stroke-width="7.6" stroke-linecap="round"/>
<text x="29.8" y="713.2" font-size="12" text-anchor="end" font-weight="normal" fill="#111" >12</text>
<text x="29.8" y="743.4" font-size="12" text-anchor="end" font-weight="normal" fill="#111" >8</text>
<text x="29.8" y="773.6" font-size="12" text-anchor="end" font-weight="normal" fill="#111" >4</text>
<text x="29.8" y="803.8" font-size="12" text-anchor="end" font-weight="normal" fill="#111" >0</text>
<text x="29.8" y="834" font-size="12" text-anchor="end" font-weight="normal" fill="#111" >-4</text>
<text x="29.8" y="864.2" font-size="12" text-anchor="end" font-weight="normal" fill="#111" >-8</text>
<text x="29.8" y="894.4" font-size="12" text-anchor="end" font-weight="normal" fill="#111" >-12</text>
<text x="41.6" y="816.8" font-size="12" text-anchor="middle" font-weight="bold" fill="#000" >0</text>
<text x="107.97" y="816.8" font-size="12" text-anchor="middle" font-weight="bold" fill="#000" >50</text>
<text x="174.35" y="816.8" font-size="12" text-anchor="middle" font-weight="bold" fill="#000" >100</text>
<text x="240.72" y="816.8" font-size="12" text-anchor="middle" font-weight="bold" fill="#000" >150</text>
<text x="307.1" y="816.8" font-size="12" text-anchor="middle" font-weight="bold" fill="#000" >200</text>
<text transform="translate(9.5,793.5) rotate(-90)" font-size="14" text-anchor="middle" font-weight="bold" fill="#000">Residuals</text>
<text x="183.4" y="908.8" font-size="14" text-anchor="middle" font-weight="bold" fill="#000" >Predicted Compressive Strength (MPa)</text>
<text x="163.4" y="928" font-size="14.5" text-anchor="middle" font-weight="normal" fill="#111" >(g)</text>
<rect x="401.8" y="709" width="270.8" height="180.8" fill="none" stroke="#000" stroke-width="1.8"/>
<circle cx="443.29" cy="764.9" r="3.7" fill="#CC0066"/>
<circle cx="458.13" cy="791.52" r="3.7" fill="#CC0066"/>
<circle cx="477.62" cy="788.62" r="3.7" fill="#CC0066"/>
<circle cx="483.58" cy="792.1" r="3.7" fill="#CC0066"/>
<circle cx="493.33" cy="788.05" r="3.7" fill="#CC0066"/>
<circle cx="526.91" cy="784.65" r="3.7" fill="#CC0066"/>
<circle cx="531.78" cy="756.3" r="3.7" fill="#CC0066"/>
<circle cx="535.03" cy="758.39" r="3.7" fill="#CC0066"/>
<circle cx="530.7" cy="768.23" r="3.7" fill="#CC0066"/>
<circle cx="530.7" cy="772.71" r="3.7" fill="#CC0066"/>
<circle cx="538.82" cy="770.69" r="3.7" fill="#CC0066"/>
<circle cx="473.29" cy="823.55" r="3.7" fill="#CC0066"/>
<circle cx="539.91" cy="770.91" r="3.7" fill="#CC0066"/>
<circle cx="543.16" cy="773.22" r="3.7" fill="#CC0066"/>
<circle cx="547.49" cy="771.63" r="3.7" fill="#CC0066"/>
<circle cx="552.91" cy="767.8" r="3.7" fill="#CC0066"/>
<circle cx="546.95" cy="787.25" r="3.7" fill="#CC0066"/>
<circle cx="549.12" cy="798.24" r="3.7" fill="#CC0066"/>
<circle cx="555.07" cy="800.12" r="3.7" fill="#CC0066"/>
<circle cx="564.28" cy="783.71" r="3.7" fill="#CC0066"/>
<circle cx="577.28" cy="762.73" r="3.7" fill="#CC0066"/>
<circle cx="583.24" cy="741.69" r="3.7" fill="#CC0066"/>
<circle cx="583.24" cy="745.23" r="3.7" fill="#CC0066"/>
<circle cx="583.24" cy="748.7" r="3.7" fill="#CC0066"/>
<circle cx="595.69" cy="777.92" r="3.7" fill="#CC0066"/>
<circle cx="601.65" cy="767.8" r="3.7" fill="#CC0066"/>
<circle cx="605.98" cy="757.6" r="3.7" fill="#CC0066"/>
<circle cx="608.69" cy="746.82" r="3.7" fill="#CC0066"/>
<circle cx="621.15" cy="770.91" r="3.7" fill="#CC0066"/>
<circle cx="620.06" cy="779.15" r="3.7" fill="#CC0066"/>
<circle cx="633.06" cy="754.49" r="3.7" fill="#CC0066"/>
<circle cx="648.77" cy="757.6" r="3.7" fill="#CC0066"/>
<circle cx="653.64" cy="776.69" r="3.7" fill="#CC0066"/>
<circle cx="653.64" cy="782.62" r="3.7" fill="#CC0066"/>
<circle cx="656.89" cy="741.04" r="3.7" fill="#CC0066"/>
<circle cx="668.27" cy="751.52" r="3.7" fill="#CC0066"/>
<circle cx="506.33" cy="779.87" r="3.7" fill="#CC0066"/>
<circle cx="577.28" cy="780.6" r="3.7" fill="#CC0066"/>
<line x1="413.17" y1="781.32" x2="672.06" y2="781.32" stroke="#000" stroke-width="7.6" stroke-linecap="round"/>
<text x="390.4" y="714.8" font-size="12" text-anchor="end" font-weight="normal" fill="#111" >10</text>
<text x="390.4" y="750.96" font-size="12" text-anchor="end" font-weight="normal" fill="#111" >5</text>
<text x="390.4" y="787.12" font-size="12" text-anchor="end" font-weight="normal" fill="#111" >0</text>
<text x="390.4" y="823.28" font-size="12" text-anchor="end" font-weight="normal" fill="#111" >-5</text>
<text x="390.4" y="859.44" font-size="12" text-anchor="end" font-weight="normal" fill="#111" >-10</text>
<text x="390.4" y="895.6" font-size="12" text-anchor="end" font-weight="normal" fill="#111" >-15</text>
<text x="401.8" y="800.8" font-size="12" text-anchor="middle" font-weight="bold" fill="#000" >0</text>
<text x="455.96" y="800.8" font-size="12" text-anchor="middle" font-weight="bold" fill="#000" >10</text>
<text x="510.12" y="800.8" font-size="12" text-anchor="middle" font-weight="bold" fill="#000" >20</text>
<text x="564.28" y="800.8" font-size="12" text-anchor="middle" font-weight="bold" fill="#000" >30</text>
<text x="618.44" y="800.8" font-size="12" text-anchor="middle" font-weight="bold" fill="#000" >40</text>
<text x="672.6" y="800.8" font-size="12" text-anchor="middle" font-weight="bold" fill="#000" >50</text>
<text transform="translate(374,795.2) rotate(-90)" font-size="14" text-anchor="middle" font-weight="bold" fill="#000">Residuals</text>
<text x="547.3" y="908.8" font-size="14" text-anchor="middle" font-weight="bold" fill="#000" >Predicted Compressive Strength (MPa)</text>
<text x="525.3" y="928.2" font-size="14.5" text-anchor="middle" font-weight="normal" fill="#111" >(h)</text>
</svg></body></html>
